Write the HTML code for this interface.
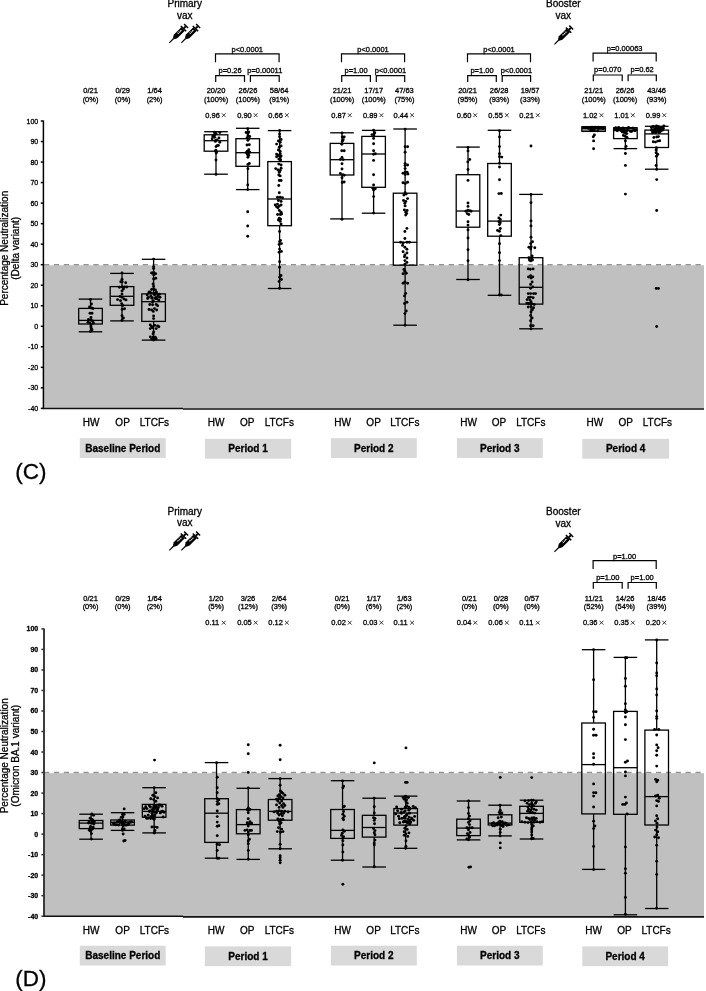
<!DOCTYPE html>
<html><head><meta charset="utf-8"><style>
html,body{margin:0;padding:0;background:#fff;width:706px;height:991px;overflow:hidden}
svg{display:block;will-change:transform}
text{font-family:"Liberation Sans",sans-serif;stroke:#000;stroke-width:0.3px}
</style></head><body>
<svg width="706" height="991" viewBox="0 0 706 991" font-family="'Liberation Sans', sans-serif"><rect x="43.4" y="265.3" width="660.6" height="143.1" fill="#c0c0c0"/><line x1="44.03" y1="264.7" x2="704" y2="264.7" stroke="#939393" stroke-width="1.5" stroke-dasharray="5.2 4.67"/><line x1="43.4" y1="120.5" x2="43.4" y2="409.1" stroke="#000" stroke-width="1.5"/><line x1="42.7" y1="408.4" x2="183" y2="408.4" stroke="#111" stroke-width="1.5"/><line x1="183" y1="409" x2="704" y2="409" stroke="#111" stroke-width="1.7"/><line x1="40.8" y1="121" x2="43.4" y2="121" stroke="#000" stroke-width="1.5"/><text x="38.2" y="123.5" font-size="7" text-anchor="end" font-weight="normal" fill="#000" >100</text><line x1="40.8" y1="141.53" x2="43.4" y2="141.53" stroke="#000" stroke-width="1.5"/><text x="38.2" y="144.03" font-size="7" text-anchor="end" font-weight="normal" fill="#000" >90</text><line x1="40.8" y1="162.06" x2="43.4" y2="162.06" stroke="#000" stroke-width="1.5"/><text x="38.2" y="164.56" font-size="7" text-anchor="end" font-weight="normal" fill="#000" >80</text><line x1="40.8" y1="182.59" x2="43.4" y2="182.59" stroke="#000" stroke-width="1.5"/><text x="38.2" y="185.09" font-size="7" text-anchor="end" font-weight="normal" fill="#000" >70</text><line x1="40.8" y1="203.11" x2="43.4" y2="203.11" stroke="#000" stroke-width="1.5"/><text x="38.2" y="205.61" font-size="7" text-anchor="end" font-weight="normal" fill="#000" >60</text><line x1="40.8" y1="223.64" x2="43.4" y2="223.64" stroke="#000" stroke-width="1.5"/><text x="38.2" y="226.14" font-size="7" text-anchor="end" font-weight="normal" fill="#000" >50</text><line x1="40.8" y1="244.17" x2="43.4" y2="244.17" stroke="#000" stroke-width="1.5"/><text x="38.2" y="246.67" font-size="7" text-anchor="end" font-weight="normal" fill="#000" >40</text><line x1="40.8" y1="264.7" x2="43.4" y2="264.7" stroke="#000" stroke-width="1.5"/><text x="38.2" y="267.2" font-size="7" text-anchor="end" font-weight="normal" fill="#000" >30</text><line x1="40.8" y1="285.23" x2="43.4" y2="285.23" stroke="#000" stroke-width="1.5"/><text x="38.2" y="287.73" font-size="7" text-anchor="end" font-weight="normal" fill="#000" >20</text><line x1="40.8" y1="305.76" x2="43.4" y2="305.76" stroke="#000" stroke-width="1.5"/><text x="38.2" y="308.26" font-size="7" text-anchor="end" font-weight="normal" fill="#000" >10</text><line x1="40.8" y1="326.29" x2="43.4" y2="326.29" stroke="#000" stroke-width="1.5"/><text x="38.2" y="328.79" font-size="7" text-anchor="end" font-weight="normal" fill="#000" >0</text><line x1="40.8" y1="346.81" x2="43.4" y2="346.81" stroke="#000" stroke-width="1.5"/><text x="38.2" y="349.31" font-size="7" text-anchor="end" font-weight="normal" fill="#000" >-10</text><line x1="40.8" y1="367.34" x2="43.4" y2="367.34" stroke="#000" stroke-width="1.5"/><text x="38.2" y="369.84" font-size="7" text-anchor="end" font-weight="normal" fill="#000" >-20</text><line x1="40.8" y1="387.87" x2="43.4" y2="387.87" stroke="#000" stroke-width="1.5"/><text x="38.2" y="390.37" font-size="7" text-anchor="end" font-weight="normal" fill="#000" >-30</text><line x1="40.8" y1="408.4" x2="43.4" y2="408.4" stroke="#000" stroke-width="1.5"/><text x="38.2" y="410.9" font-size="7" text-anchor="end" font-weight="normal" fill="#000" >-40</text><g transform="translate(7.9,248.3) rotate(-90)"><text x="0" y="0" font-size="10" text-anchor="middle">Percentage Neutralization</text></g><g transform="translate(18.6,248.3) rotate(-90)"><text x="0" y="0" font-size="10" text-anchor="middle">(Delta variant)</text></g><text x="91" y="426.2" font-size="10" text-anchor="middle" font-weight="normal" fill="#000" >HW</text><text x="122.6" y="426.2" font-size="10" text-anchor="middle" font-weight="normal" fill="#000" >OP</text><text x="154.4" y="426.2" font-size="10" text-anchor="middle" font-weight="normal" fill="#000" >LTCFs</text><rect x="79.8" y="438.2" width="85.9" height="19.8" fill="#d9d9d9"/><text x="122.75" y="451.7" font-size="10" text-anchor="middle" font-weight="bold" fill="#000" >Baseline Period</text><text x="216.1" y="426.2" font-size="10" text-anchor="middle" font-weight="normal" fill="#000" >HW</text><text x="247.2" y="426.2" font-size="10" text-anchor="middle" font-weight="normal" fill="#000" >OP</text><text x="279.3" y="426.2" font-size="10" text-anchor="middle" font-weight="normal" fill="#000" >LTCFs</text><rect x="204.9" y="438.9" width="86.3" height="19.8" fill="#d9d9d9"/><text x="248.05" y="452.4" font-size="10" text-anchor="middle" font-weight="bold" fill="#000" >Period 1</text><text x="342.7" y="426.2" font-size="10" text-anchor="middle" font-weight="normal" fill="#000" >HW</text><text x="373.6" y="426.2" font-size="10" text-anchor="middle" font-weight="normal" fill="#000" >OP</text><text x="404.8" y="426.2" font-size="10" text-anchor="middle" font-weight="normal" fill="#000" >LTCFs</text><rect x="330.9" y="438.2" width="85.9" height="19.8" fill="#d9d9d9"/><text x="373.85" y="451.7" font-size="10" text-anchor="middle" font-weight="bold" fill="#000" >Period 2</text><text x="468.6" y="426.2" font-size="10" text-anchor="middle" font-weight="normal" fill="#000" >HW</text><text x="499" y="426.2" font-size="10" text-anchor="middle" font-weight="normal" fill="#000" >OP</text><text x="530.8" y="426.2" font-size="10" text-anchor="middle" font-weight="normal" fill="#000" >LTCFs</text><rect x="456.9" y="438.2" width="85.9" height="19.8" fill="#d9d9d9"/><text x="499.85" y="451.7" font-size="10" text-anchor="middle" font-weight="bold" fill="#000" >Period 3</text><text x="594.8" y="426.2" font-size="10" text-anchor="middle" font-weight="normal" fill="#000" >HW</text><text x="625.7" y="426.2" font-size="10" text-anchor="middle" font-weight="normal" fill="#000" >OP</text><text x="657.4" y="426.2" font-size="10" text-anchor="middle" font-weight="normal" fill="#000" >LTCFs</text><rect x="582.3" y="438.9" width="86.8" height="19.8" fill="#d9d9d9"/><text x="625.7" y="452.4" font-size="10" text-anchor="middle" font-weight="bold" fill="#000" >Period 4</text><text x="15.2" y="479.4" font-size="22.5" text-anchor="start" font-weight="normal" fill="#000" >(C)</text><text x="184.7" y="7" font-size="10" text-anchor="middle" font-weight="normal" fill="#000" >Primary</text><text x="184.7" y="18.9" font-size="10" text-anchor="middle" font-weight="normal" fill="#000" >vax</text><text x="563.3" y="7.3" font-size="10" text-anchor="middle" font-weight="normal" fill="#000" >Booster</text><text x="563.3" y="19.4" font-size="10" text-anchor="middle" font-weight="normal" fill="#000" >vax</text><g transform="translate(169.3,42.8) rotate(-45)"><path d="M0,-0.5 L6.2,-0.65 L6.2,0.65 L0,0.5Z" fill="#000"/><path d="M6,-0.9 L8.8,-2.5 L19.5,-2.5 L19.5,2.5 L8.8,2.5 L6,0.9Z" fill="#000"/><rect x="19.3" y="-3.8" width="1.5" height="7.6" fill="#000"/><rect x="20.6" y="-1" width="2.6" height="2" fill="#000"/><rect x="23" y="-2.8" width="1.5" height="5.6" fill="#000"/><path d="M12,-0.2 L17.6,-0.2 M13,-0.2 L13,-1.6 M14.8,-0.2 L14.8,-1.6 M16.6,-0.2 L16.6,-1.6" stroke="#fff" stroke-width="0.75" fill="none"/></g><g transform="translate(181.3,42.8) rotate(-45)"><path d="M0,-0.5 L6.2,-0.65 L6.2,0.65 L0,0.5Z" fill="#000"/><path d="M6,-0.9 L8.8,-2.5 L19.5,-2.5 L19.5,2.5 L8.8,2.5 L6,0.9Z" fill="#000"/><rect x="19.3" y="-3.8" width="1.5" height="7.6" fill="#000"/><rect x="20.6" y="-1" width="2.6" height="2" fill="#000"/><rect x="23" y="-2.8" width="1.5" height="5.6" fill="#000"/><path d="M12,-0.2 L17.6,-0.2 M13,-0.2 L13,-1.6 M14.8,-0.2 L14.8,-1.6 M16.6,-0.2 L16.6,-1.6" stroke="#fff" stroke-width="0.75" fill="none"/></g><g transform="translate(554.4,44.3) rotate(-45)"><path d="M0,-0.5 L6.2,-0.65 L6.2,0.65 L0,0.5Z" fill="#000"/><path d="M6,-0.9 L8.8,-2.5 L19.5,-2.5 L19.5,2.5 L8.8,2.5 L6,0.9Z" fill="#000"/><rect x="19.3" y="-3.8" width="1.5" height="7.6" fill="#000"/><rect x="20.6" y="-1" width="2.6" height="2" fill="#000"/><rect x="23" y="-2.8" width="1.5" height="5.6" fill="#000"/><path d="M12,-0.2 L17.6,-0.2 M13,-0.2 L13,-1.6 M14.8,-0.2 L14.8,-1.6 M16.6,-0.2 L16.6,-1.6" stroke="#fff" stroke-width="0.75" fill="none"/></g><text x="90.55" y="93.3" font-size="7.5" text-anchor="middle" font-weight="normal" fill="#000" >0/21</text><text x="90.55" y="101.7" font-size="7.5" text-anchor="middle" font-weight="normal" fill="#000" >(0%)</text><text x="122.7" y="93.3" font-size="7.5" text-anchor="middle" font-weight="normal" fill="#000" >0/29</text><text x="122.7" y="101.7" font-size="7.5" text-anchor="middle" font-weight="normal" fill="#000" >(0%)</text><text x="154.55" y="93.3" font-size="7.5" text-anchor="middle" font-weight="normal" fill="#000" >1/64</text><text x="154.55" y="101.7" font-size="7.5" text-anchor="middle" font-weight="normal" fill="#000" >(2%)</text><text x="216.05" y="93.3" font-size="7.5" text-anchor="middle" font-weight="normal" fill="#000" >20/20</text><text x="216.05" y="101.7" font-size="7.5" text-anchor="middle" font-weight="normal" fill="#000" >(100%)</text><text x="205.25" y="117.9" font-size="7.5" text-anchor="start" font-weight="normal" fill="#000" >0.96</text><path d="M221.85,113.3 L225.65,117.1 M225.65,113.3 L221.85,117.1" stroke="#222" stroke-width="0.9" fill="none"/><text x="247.95" y="93.3" font-size="7.5" text-anchor="middle" font-weight="normal" fill="#000" >26/26</text><text x="247.95" y="101.7" font-size="7.5" text-anchor="middle" font-weight="normal" fill="#000" >(100%)</text><text x="237.15" y="117.9" font-size="7.5" text-anchor="start" font-weight="normal" fill="#000" >0.90</text><path d="M253.75,113.3 L257.55,117.1 M257.55,113.3 L253.75,117.1" stroke="#222" stroke-width="0.9" fill="none"/><text x="279.15" y="93.3" font-size="7.5" text-anchor="middle" font-weight="normal" fill="#000" >58/64</text><text x="279.15" y="101.7" font-size="7.5" text-anchor="middle" font-weight="normal" fill="#000" >(91%)</text><text x="268.35" y="117.9" font-size="7.5" text-anchor="start" font-weight="normal" fill="#000" >0.66</text><path d="M284.95,113.3 L288.75,117.1 M288.75,113.3 L284.95,117.1" stroke="#222" stroke-width="0.9" fill="none"/><text x="342.05" y="93.3" font-size="7.5" text-anchor="middle" font-weight="normal" fill="#000" >21/21</text><text x="342.05" y="101.7" font-size="7.5" text-anchor="middle" font-weight="normal" fill="#000" >(100%)</text><text x="331.25" y="117.9" font-size="7.5" text-anchor="start" font-weight="normal" fill="#000" >0.87</text><path d="M347.85,113.3 L351.65,117.1 M351.65,113.3 L347.85,117.1" stroke="#222" stroke-width="0.9" fill="none"/><text x="373.75" y="93.3" font-size="7.5" text-anchor="middle" font-weight="normal" fill="#000" >17/17</text><text x="373.75" y="101.7" font-size="7.5" text-anchor="middle" font-weight="normal" fill="#000" >(100%)</text><text x="362.95" y="117.9" font-size="7.5" text-anchor="start" font-weight="normal" fill="#000" >0.89</text><path d="M379.55,113.3 L383.35,117.1 M383.35,113.3 L379.55,117.1" stroke="#222" stroke-width="0.9" fill="none"/><text x="404.4" y="93.3" font-size="7.5" text-anchor="middle" font-weight="normal" fill="#000" >47/63</text><text x="404.4" y="101.7" font-size="7.5" text-anchor="middle" font-weight="normal" fill="#000" >(75%)</text><text x="393.6" y="117.9" font-size="7.5" text-anchor="start" font-weight="normal" fill="#000" >0.44</text><path d="M410.2,113.3 L414,117.1 M414,113.3 L410.2,117.1" stroke="#222" stroke-width="0.9" fill="none"/><text x="467.55" y="93.3" font-size="7.5" text-anchor="middle" font-weight="normal" fill="#000" >20/21</text><text x="467.55" y="101.7" font-size="7.5" text-anchor="middle" font-weight="normal" fill="#000" >(95%)</text><text x="456.75" y="117.9" font-size="7.5" text-anchor="start" font-weight="normal" fill="#000" >0.60</text><path d="M473.35,113.3 L477.15,117.1 M477.15,113.3 L473.35,117.1" stroke="#222" stroke-width="0.9" fill="none"/><text x="499.15" y="93.3" font-size="7.5" text-anchor="middle" font-weight="normal" fill="#000" >26/28</text><text x="499.15" y="101.7" font-size="7.5" text-anchor="middle" font-weight="normal" fill="#000" >(93%)</text><text x="488.35" y="117.9" font-size="7.5" text-anchor="start" font-weight="normal" fill="#000" >0.55</text><path d="M504.95,113.3 L508.75,117.1 M508.75,113.3 L504.95,117.1" stroke="#222" stroke-width="0.9" fill="none"/><text x="530.1" y="93.3" font-size="7.5" text-anchor="middle" font-weight="normal" fill="#000" >19/57</text><text x="530.1" y="101.7" font-size="7.5" text-anchor="middle" font-weight="normal" fill="#000" >(33%)</text><text x="519.3" y="117.9" font-size="7.5" text-anchor="start" font-weight="normal" fill="#000" >0.21</text><path d="M535.9,113.3 L539.7,117.1 M539.7,113.3 L535.9,117.1" stroke="#222" stroke-width="0.9" fill="none"/><text x="593.75" y="93.3" font-size="7.5" text-anchor="middle" font-weight="normal" fill="#000" >21/21</text><text x="593.75" y="101.7" font-size="7.5" text-anchor="middle" font-weight="normal" fill="#000" >(100%)</text><text x="582.95" y="117.9" font-size="7.5" text-anchor="start" font-weight="normal" fill="#000" >1.02</text><path d="M599.55,113.3 L603.35,117.1 M603.35,113.3 L599.55,117.1" stroke="#222" stroke-width="0.9" fill="none"/><text x="625.1" y="93.3" font-size="7.5" text-anchor="middle" font-weight="normal" fill="#000" >26/26</text><text x="625.1" y="101.7" font-size="7.5" text-anchor="middle" font-weight="normal" fill="#000" >(100%)</text><text x="614.3" y="117.9" font-size="7.5" text-anchor="start" font-weight="normal" fill="#000" >1.01</text><path d="M630.9,113.3 L634.7,117.1 M634.7,113.3 L630.9,117.1" stroke="#222" stroke-width="0.9" fill="none"/><text x="656.6" y="93.3" font-size="7.5" text-anchor="middle" font-weight="normal" fill="#000" >43/46</text><text x="656.6" y="101.7" font-size="7.5" text-anchor="middle" font-weight="normal" fill="#000" >(93%)</text><text x="645.8" y="117.9" font-size="7.5" text-anchor="start" font-weight="normal" fill="#000" >0.99</text><path d="M662.4,113.3 L666.2,117.1 M666.2,113.3 L662.4,117.1" stroke="#222" stroke-width="0.9" fill="none"/><path d="M215.5,62.2 V53.8 H279.1 V62.2" stroke="#000" stroke-width="1.2" fill="none"/><text x="247.3" y="51.7" font-size="7.5" text-anchor="middle" font-weight="normal" fill="#000" >p&lt;0.0001</text><path d="M215.7,82 V75.7 H244.5 V82" stroke="#000" stroke-width="1.2" fill="none"/><text x="230.1" y="73" font-size="7.5" text-anchor="middle" font-weight="normal" fill="#000" >p=0.26</text><path d="M250.4,82 V75.7 H279.2 V82" stroke="#000" stroke-width="1.2" fill="none"/><text x="264.8" y="73" font-size="7.5" text-anchor="middle" font-weight="normal" fill="#000" >p=0.00011</text><path d="M341.5,62.2 V53.8 H404.6 V62.2" stroke="#000" stroke-width="1.2" fill="none"/><text x="373.05" y="51.7" font-size="7.5" text-anchor="middle" font-weight="normal" fill="#000" >p&lt;0.0001</text><path d="M341.7,82 V75.7 H370.4 V82" stroke="#000" stroke-width="1.2" fill="none"/><text x="356.05" y="73" font-size="7.5" text-anchor="middle" font-weight="normal" fill="#000" >p=1.00</text><path d="M376.3,82 V75.7 H404.7 V82" stroke="#000" stroke-width="1.2" fill="none"/><text x="390.5" y="73" font-size="7.5" text-anchor="middle" font-weight="normal" fill="#000" >p&lt;0.0001</text><path d="M467.5,62.2 V53.8 H530.5 V62.2" stroke="#000" stroke-width="1.2" fill="none"/><text x="499" y="51.7" font-size="7.5" text-anchor="middle" font-weight="normal" fill="#000" >p&lt;0.0001</text><path d="M467.7,82 V75.7 H496.3 V82" stroke="#000" stroke-width="1.2" fill="none"/><text x="482" y="73" font-size="7.5" text-anchor="middle" font-weight="normal" fill="#000" >p=1.00</text><path d="M502.2,82 V75.7 H530.6 V82" stroke="#000" stroke-width="1.2" fill="none"/><text x="516.4" y="73" font-size="7.5" text-anchor="middle" font-weight="normal" fill="#000" >p&lt;0.0001</text><path d="M593.1,61.5 V53.1 H656.2 V61.5" stroke="#000" stroke-width="1.2" fill="none"/><text x="624.65" y="51" font-size="7.5" text-anchor="middle" font-weight="normal" fill="#000" >p=0.00063</text><path d="M593.3,81.3 V75 H622.2 V81.3" stroke="#000" stroke-width="1.2" fill="none"/><text x="607.75" y="72.3" font-size="7.5" text-anchor="middle" font-weight="normal" fill="#000" >p=0.070</text><path d="M628.1,81.3 V75 H656.3 V81.3" stroke="#000" stroke-width="1.2" fill="none"/><text x="642.2" y="72.3" font-size="7.5" text-anchor="middle" font-weight="normal" fill="#000" >p=0.62</text><g stroke="#000" stroke-width="1.3" fill="none"><line x1="90.5" y1="299.1" x2="90.5" y2="308.4"/><line x1="90.5" y1="324" x2="90.5" y2="331.8"/><line x1="78.7" y1="299.1" x2="102.3" y2="299.1"/><line x1="78.7" y1="331.8" x2="102.3" y2="331.8"/><rect x="78.7" y="308.4" width="23.6" height="15.6"/><line x1="78.7" y1="320.4" x2="102.3" y2="320.4"/></g><g stroke="#000" stroke-width="1.3" fill="none"><line x1="122" y1="273.4" x2="122" y2="286.6"/><line x1="122" y1="305.3" x2="122" y2="320.9"/><line x1="110.2" y1="273.4" x2="133.8" y2="273.4"/><line x1="110.2" y1="320.9" x2="133.8" y2="320.9"/><rect x="110.2" y="286.6" width="23.6" height="18.7"/><line x1="110.2" y1="296.3" x2="133.8" y2="296.3"/></g><g stroke="#000" stroke-width="1.3" fill="none"><line x1="153.6" y1="259.3" x2="153.6" y2="293.9"/><line x1="153.6" y1="321.4" x2="153.6" y2="340.1"/><line x1="141.8" y1="259.3" x2="165.4" y2="259.3"/><line x1="141.8" y1="340.1" x2="165.4" y2="340.1"/><rect x="141.8" y="293.9" width="23.6" height="27.5"/><line x1="141.8" y1="301.7" x2="165.4" y2="301.7"/></g><g stroke="#000" stroke-width="1.3" fill="none"><line x1="216" y1="131.7" x2="216" y2="134.8"/><line x1="216" y1="151.2" x2="216" y2="174.2"/><line x1="204.2" y1="131.7" x2="227.8" y2="131.7"/><line x1="204.2" y1="174.2" x2="227.8" y2="174.2"/><rect x="204.2" y="134.8" width="23.6" height="16.4"/><line x1="204.2" y1="140.7" x2="227.8" y2="140.7"/></g><g stroke="#000" stroke-width="1.3" fill="none"><line x1="247.7" y1="128.3" x2="247.7" y2="138.7"/><line x1="247.7" y1="166.3" x2="247.7" y2="189.6"/><line x1="235.9" y1="128.3" x2="259.5" y2="128.3"/><line x1="235.9" y1="189.6" x2="259.5" y2="189.6"/><rect x="235.9" y="138.7" width="23.6" height="27.6"/><line x1="235.9" y1="152.7" x2="259.5" y2="152.7"/></g><g stroke="#000" stroke-width="1.3" fill="none"><line x1="279.6" y1="130.6" x2="279.6" y2="161.6"/><line x1="279.6" y1="225.7" x2="279.6" y2="288.5"/><line x1="267.8" y1="130.6" x2="291.4" y2="130.6"/><line x1="267.8" y1="288.5" x2="291.4" y2="288.5"/><rect x="267.8" y="161.6" width="23.6" height="64.1"/><line x1="267.8" y1="199" x2="291.4" y2="199"/></g><g stroke="#000" stroke-width="1.3" fill="none"><line x1="342" y1="132.8" x2="342" y2="143.4"/><line x1="342" y1="175" x2="342" y2="218.9"/><line x1="330.2" y1="132.8" x2="353.8" y2="132.8"/><line x1="330.2" y1="218.9" x2="353.8" y2="218.9"/><rect x="330.2" y="143.4" width="23.6" height="31.6"/><line x1="330.2" y1="159.7" x2="353.8" y2="159.7"/></g><g stroke="#000" stroke-width="1.3" fill="none"><line x1="373.6" y1="130.4" x2="373.6" y2="136.4"/><line x1="373.6" y1="187.3" x2="373.6" y2="213.2"/><line x1="361.8" y1="130.4" x2="385.4" y2="130.4"/><line x1="361.8" y1="213.2" x2="385.4" y2="213.2"/><rect x="361.8" y="136.4" width="23.6" height="50.9"/><line x1="361.8" y1="154" x2="385.4" y2="154"/></g><g stroke="#000" stroke-width="1.3" fill="none"><line x1="405.1" y1="129" x2="405.1" y2="193.2"/><line x1="405.1" y1="265.2" x2="405.1" y2="325.2"/><line x1="393.3" y1="129" x2="416.9" y2="129"/><line x1="393.3" y1="325.2" x2="416.9" y2="325.2"/><rect x="393.3" y="193.2" width="23.6" height="72"/><line x1="393.3" y1="242.3" x2="416.9" y2="242.3"/></g><g stroke="#000" stroke-width="1.3" fill="none"><line x1="468" y1="147.1" x2="468" y2="174.7"/><line x1="468" y1="227.2" x2="468" y2="279.5"/><line x1="456.2" y1="147.1" x2="479.8" y2="147.1"/><line x1="456.2" y1="279.5" x2="479.8" y2="279.5"/><rect x="456.2" y="174.7" width="23.6" height="52.5"/><line x1="456.2" y1="211" x2="479.8" y2="211"/></g><g stroke="#000" stroke-width="1.3" fill="none"><line x1="499.5" y1="130.3" x2="499.5" y2="163.5"/><line x1="499.5" y1="236.2" x2="499.5" y2="295.3"/><line x1="487.7" y1="130.3" x2="511.3" y2="130.3"/><line x1="487.7" y1="295.3" x2="511.3" y2="295.3"/><rect x="487.7" y="163.5" width="23.6" height="72.7"/><line x1="487.7" y1="221.1" x2="511.3" y2="221.1"/></g><g stroke="#000" stroke-width="1.3" fill="none"><line x1="531" y1="194.4" x2="531" y2="257.7"/><line x1="531" y1="304.1" x2="531" y2="328.8"/><line x1="519.2" y1="194.4" x2="542.8" y2="194.4"/><line x1="519.2" y1="328.8" x2="542.8" y2="328.8"/><rect x="519.2" y="257.7" width="23.6" height="46.4"/><line x1="519.2" y1="287.3" x2="542.8" y2="287.3"/></g><g stroke="#000" stroke-width="1.3" fill="none"><line x1="593.6" y1="126.7" x2="593.6" y2="126.9"/><line x1="593.6" y1="131.2" x2="593.6" y2="131.4"/><line x1="581.8" y1="126.7" x2="605.4" y2="126.7"/><line x1="581.8" y1="131.4" x2="605.4" y2="131.4"/><rect x="581.8" y="126.9" width="23.6" height="4.3"/><line x1="581.8" y1="128.8" x2="605.4" y2="128.8"/></g><g stroke="#000" stroke-width="1.3" fill="none"><line x1="625.4" y1="127.7" x2="625.4" y2="127.9"/><line x1="625.4" y1="138.6" x2="625.4" y2="148.6"/><line x1="613.6" y1="127.7" x2="637.2" y2="127.7"/><line x1="613.6" y1="148.6" x2="637.2" y2="148.6"/><rect x="613.6" y="127.9" width="23.6" height="10.7"/><line x1="613.6" y1="130.6" x2="637.2" y2="130.6"/></g><g stroke="#000" stroke-width="1.3" fill="none"><line x1="656.7" y1="126.3" x2="656.7" y2="130.1"/><line x1="656.7" y1="147.5" x2="656.7" y2="169.2"/><line x1="644.9" y1="126.3" x2="668.5" y2="126.3"/><line x1="644.9" y1="169.2" x2="668.5" y2="169.2"/><rect x="644.9" y="130.1" width="23.6" height="17.4"/><line x1="644.9" y1="133.9" x2="668.5" y2="133.9"/></g><g fill="#000"><circle cx="90.5" cy="299.5" r="1.45"/><circle cx="91.5" cy="304" r="1.45"/><circle cx="89.5" cy="307" r="1.45"/><circle cx="91.5" cy="308" r="1.45"/><circle cx="93" cy="308.5" r="1.45"/><circle cx="90" cy="313.2" r="1.45"/><circle cx="92" cy="313.3" r="1.45"/><circle cx="91" cy="317.5" r="1.45"/><circle cx="88.5" cy="319.5" r="1.45"/><circle cx="91" cy="320" r="1.45"/><circle cx="92.5" cy="321" r="1.45"/><circle cx="88" cy="322.3" r="1.45"/><circle cx="90" cy="323" r="1.45"/><circle cx="93.5" cy="323" r="1.45"/><circle cx="91" cy="325" r="1.45"/><circle cx="91" cy="327" r="1.45"/><circle cx="91.5" cy="329" r="1.45"/><circle cx="92" cy="330" r="1.45"/><circle cx="90.5" cy="331.5" r="1.45"/><circle cx="122" cy="272.9" r="1.45"/><circle cx="122" cy="279.2" r="1.45"/><circle cx="120.8" cy="281.8" r="1.45"/><circle cx="122.2" cy="281.8" r="1.45"/><circle cx="125.7" cy="282.7" r="1.45"/><circle cx="119.4" cy="287.3" r="1.45"/><circle cx="122.2" cy="287" r="1.45"/><circle cx="124.5" cy="287" r="1.45"/><circle cx="126.8" cy="287" r="1.45"/><circle cx="123.4" cy="289" r="1.45"/><circle cx="122" cy="291" r="1.45"/><circle cx="122" cy="294.1" r="1.45"/><circle cx="120" cy="296.4" r="1.45"/><circle cx="122" cy="297.3" r="1.45"/><circle cx="117.6" cy="299.6" r="1.45"/><circle cx="120.5" cy="300.8" r="1.45"/><circle cx="124" cy="299" r="1.45"/><circle cx="126" cy="299.9" r="1.45"/><circle cx="121.7" cy="303.6" r="1.45"/><circle cx="122.8" cy="305.4" r="1.45"/><circle cx="122.2" cy="309.4" r="1.45"/><circle cx="124.5" cy="308.8" r="1.45"/><circle cx="122" cy="315.7" r="1.45"/><circle cx="123.4" cy="318" r="1.45"/><circle cx="122" cy="320.3" r="1.45"/><circle cx="153.6" cy="259.1" r="1.45"/><circle cx="153.6" cy="266.8" r="1.45"/><circle cx="153.6" cy="268.6" r="1.45"/><circle cx="151.6" cy="273" r="1.45"/><circle cx="153.6" cy="272.5" r="1.45"/><circle cx="155.6" cy="273.8" r="1.45"/><circle cx="153.6" cy="274.8" r="1.45"/><circle cx="155.7" cy="278.2" r="1.45"/><circle cx="153.6" cy="279" r="1.45"/><circle cx="153.1" cy="284" r="1.45"/><circle cx="153.6" cy="286.4" r="1.45"/><circle cx="151.6" cy="289.5" r="1.45"/><circle cx="153.6" cy="289" r="1.45"/><circle cx="155.4" cy="290" r="1.45"/><circle cx="147.18" cy="295.07" r="1.45"/><circle cx="147.68" cy="298.56" r="1.45"/><circle cx="148.38" cy="297.33" r="1.45"/><circle cx="149" cy="292.22" r="1.45"/><circle cx="149.5" cy="292" r="1.45"/><circle cx="149.86" cy="292.35" r="1.45"/><circle cx="150.8" cy="296.14" r="1.45"/><circle cx="151.01" cy="292.92" r="1.45"/><circle cx="151.95" cy="298.31" r="1.45"/><circle cx="152.19" cy="297.78" r="1.45"/><circle cx="152.54" cy="302.05" r="1.45"/><circle cx="153.22" cy="300.79" r="1.45"/><circle cx="153.66" cy="293.14" r="1.45"/><circle cx="154.58" cy="294.9" r="1.45"/><circle cx="155" cy="293.53" r="1.45"/><circle cx="155.43" cy="298.44" r="1.45"/><circle cx="155.8" cy="297.46" r="1.45"/><circle cx="156.42" cy="292.24" r="1.45"/><circle cx="157.08" cy="298.88" r="1.45"/><circle cx="157.71" cy="294.96" r="1.45"/><circle cx="158.1" cy="296.45" r="1.45"/><circle cx="158.85" cy="300.1" r="1.45"/><circle cx="159.33" cy="294.21" r="1.45"/><circle cx="160.03" cy="297.22" r="1.45"/><circle cx="149.8" cy="304.5" r="1.45"/><circle cx="152.6" cy="304.8" r="1.45"/><circle cx="156.2" cy="304.5" r="1.45"/><circle cx="157.6" cy="305.8" r="1.45"/><circle cx="149" cy="309.5" r="1.45"/><circle cx="151.6" cy="310" r="1.45"/><circle cx="154.4" cy="308.6" r="1.45"/><circle cx="156.7" cy="310" r="1.45"/><circle cx="153.3" cy="311.4" r="1.45"/><circle cx="153.6" cy="316" r="1.45"/><circle cx="153.6" cy="318.6" r="1.45"/><circle cx="150.3" cy="325" r="1.45"/><circle cx="151.6" cy="326.4" r="1.45"/><circle cx="154.8" cy="325.4" r="1.45"/><circle cx="157.6" cy="326" r="1.45"/><circle cx="158.9" cy="326.8" r="1.45"/><circle cx="150.3" cy="328.6" r="1.45"/><circle cx="152.6" cy="327.8" r="1.45"/><circle cx="156.2" cy="328.6" r="1.45"/><circle cx="153.6" cy="332" r="1.45"/><circle cx="153.1" cy="334" r="1.45"/><circle cx="150.3" cy="337" r="1.45"/><circle cx="153.1" cy="337.3" r="1.45"/><circle cx="155.3" cy="337.3" r="1.45"/><circle cx="154.4" cy="339" r="1.45"/><circle cx="151.6" cy="339" r="1.45"/><circle cx="156.2" cy="339" r="1.45"/><circle cx="153.6" cy="340" r="1.45"/><circle cx="214.62" cy="132.21" r="1.45"/><circle cx="219.8" cy="132.54" r="1.45"/><circle cx="216.05" cy="133.63" r="1.45"/><circle cx="214.8" cy="134.53" r="1.45"/><circle cx="214.25" cy="134.99" r="1.45"/><circle cx="212.9" cy="136.27" r="1.45"/><circle cx="214.74" cy="137.36" r="1.45"/><circle cx="218.97" cy="137.97" r="1.45"/><circle cx="212.2" cy="138.79" r="1.45"/><circle cx="217.09" cy="139.94" r="1.45"/><circle cx="215.62" cy="140.38" r="1.45"/><circle cx="215.37" cy="141.41" r="1.45"/><circle cx="219.8" cy="142.2" r="1.45"/><circle cx="217" cy="145.7" r="1.45"/><circle cx="218.4" cy="145.4" r="1.45"/><circle cx="216" cy="146.6" r="1.45"/><circle cx="215.89" cy="150.08" r="1.45"/><circle cx="215.86" cy="150.79" r="1.45"/><circle cx="215.74" cy="151.48" r="1.45"/><circle cx="216.36" cy="151.93" r="1.45"/><circle cx="216.32" cy="152.95" r="1.45"/><circle cx="216" cy="160" r="1.45"/><circle cx="216" cy="174.4" r="1.45"/><circle cx="247.7" cy="128.7" r="1.45"/><circle cx="246.1" cy="132.5" r="1.45"/><circle cx="248.8" cy="132" r="1.45"/><circle cx="247.9" cy="133.8" r="1.45"/><circle cx="247.9" cy="136" r="1.45"/><circle cx="249.7" cy="136.5" r="1.45"/><circle cx="247" cy="137.9" r="1.45"/><circle cx="248.8" cy="138.8" r="1.45"/><circle cx="247.9" cy="140.2" r="1.45"/><circle cx="247" cy="145" r="1.45"/><circle cx="249.3" cy="144.8" r="1.45"/><circle cx="248.8" cy="149.8" r="1.45"/><circle cx="247.4" cy="151.2" r="1.45"/><circle cx="246.1" cy="152.6" r="1.45"/><circle cx="248.3" cy="153" r="1.45"/><circle cx="249.7" cy="152.2" r="1.45"/><circle cx="247.4" cy="154.5" r="1.45"/><circle cx="248.8" cy="155.4" r="1.45"/><circle cx="247.9" cy="157.2" r="1.45"/><circle cx="249.3" cy="163.5" r="1.45"/><circle cx="247.9" cy="164.4" r="1.45"/><circle cx="247.9" cy="168.7" r="1.45"/><circle cx="247.7" cy="184.9" r="1.45"/><circle cx="247.7" cy="189.6" r="1.45"/><circle cx="247.7" cy="211.8" r="1.45"/><circle cx="247.7" cy="226" r="1.45"/><circle cx="247.7" cy="236.3" r="1.45"/><circle cx="279.6" cy="130.5" r="1.45"/><circle cx="279.6" cy="134" r="1.45"/><circle cx="279.6" cy="136.8" r="1.45"/><circle cx="281.1" cy="139.5" r="1.45"/><circle cx="278.4" cy="140.9" r="1.45"/><circle cx="280.2" cy="142.3" r="1.45"/><circle cx="276.6" cy="144.1" r="1.45"/><circle cx="281.1" cy="145.9" r="1.45"/><circle cx="279.3" cy="147.3" r="1.45"/><circle cx="278.4" cy="150" r="1.45"/><circle cx="280.2" cy="151.4" r="1.45"/><circle cx="276.6" cy="154.1" r="1.45"/><circle cx="280.2" cy="153.6" r="1.45"/><circle cx="278.4" cy="155.5" r="1.45"/><circle cx="281.1" cy="155.9" r="1.45"/><circle cx="276.6" cy="156.8" r="1.45"/><circle cx="280.2" cy="157.7" r="1.45"/><circle cx="278.8" cy="159.1" r="1.45"/><circle cx="280.6" cy="160" r="1.45"/><circle cx="278.8" cy="164.1" r="1.45"/><circle cx="281.1" cy="165" r="1.45"/><circle cx="275.7" cy="168.6" r="1.45"/><circle cx="277.9" cy="170" r="1.45"/><circle cx="280.2" cy="170.5" r="1.45"/><circle cx="279.3" cy="172.3" r="1.45"/><circle cx="281.1" cy="168.2" r="1.45"/><circle cx="278.8" cy="175" r="1.45"/><circle cx="280.2" cy="175.9" r="1.45"/><circle cx="279.3" cy="180.5" r="1.45"/><circle cx="281.1" cy="180.5" r="1.45"/><circle cx="278.8" cy="185.5" r="1.45"/><circle cx="279.3" cy="192.7" r="1.45"/><circle cx="277.5" cy="197.3" r="1.45"/><circle cx="280.2" cy="197.3" r="1.45"/><circle cx="282.5" cy="197.7" r="1.45"/><circle cx="278.4" cy="200.5" r="1.45"/><circle cx="281.1" cy="201.4" r="1.45"/><circle cx="275.2" cy="205" r="1.45"/><circle cx="277.5" cy="204.1" r="1.45"/><circle cx="276.6" cy="206.8" r="1.45"/><circle cx="279.3" cy="206" r="1.45"/><circle cx="281.1" cy="205" r="1.45"/><circle cx="277.9" cy="207.7" r="1.45"/><circle cx="279.3" cy="210.5" r="1.45"/><circle cx="281.1" cy="212.3" r="1.45"/><circle cx="277.6" cy="214.5" r="1.45"/><circle cx="280.3" cy="214.5" r="1.45"/><circle cx="281.6" cy="214.1" r="1.45"/><circle cx="279.3" cy="218.2" r="1.45"/><circle cx="280.6" cy="219.1" r="1.45"/><circle cx="278.4" cy="220" r="1.45"/><circle cx="280.2" cy="221.4" r="1.45"/><circle cx="281.1" cy="224.1" r="1.45"/><circle cx="279.6" cy="231.4" r="1.45"/><circle cx="280.5" cy="240.5" r="1.45"/><circle cx="279.6" cy="241.8" r="1.45"/><circle cx="281.4" cy="243.6" r="1.45"/><circle cx="279.1" cy="244.5" r="1.45"/><circle cx="279.6" cy="249.1" r="1.45"/><circle cx="281.4" cy="251.4" r="1.45"/><circle cx="279.1" cy="252.3" r="1.45"/><circle cx="279.6" cy="261.8" r="1.45"/><circle cx="279.6" cy="267.3" r="1.45"/><circle cx="281" cy="275.5" r="1.45"/><circle cx="279.6" cy="277.3" r="1.45"/><circle cx="281.4" cy="279.5" r="1.45"/><circle cx="279.1" cy="281.4" r="1.45"/><circle cx="279.6" cy="288.2" r="1.45"/><circle cx="342" cy="132.9" r="1.45"/><circle cx="342.3" cy="137" r="1.45"/><circle cx="344.2" cy="137" r="1.45"/><circle cx="343.2" cy="139.8" r="1.45"/><circle cx="342.3" cy="141.3" r="1.45"/><circle cx="341.8" cy="144.2" r="1.45"/><circle cx="341.8" cy="150.7" r="1.45"/><circle cx="344.2" cy="150.7" r="1.45"/><circle cx="342" cy="157.4" r="1.45"/><circle cx="340.4" cy="159.4" r="1.45"/><circle cx="343.2" cy="159.6" r="1.45"/><circle cx="342" cy="163.8" r="1.45"/><circle cx="342" cy="169" r="1.45"/><circle cx="340.4" cy="173.4" r="1.45"/><circle cx="342.8" cy="174.8" r="1.45"/><circle cx="344.2" cy="175.3" r="1.45"/><circle cx="342" cy="177.7" r="1.45"/><circle cx="342.3" cy="182.5" r="1.45"/><circle cx="344.2" cy="182" r="1.45"/><circle cx="342" cy="219.3" r="1.45"/><circle cx="373.6" cy="130.3" r="1.45"/><circle cx="374.8" cy="132.7" r="1.45"/><circle cx="372" cy="134.6" r="1.45"/><circle cx="373.9" cy="135" r="1.45"/><circle cx="373.6" cy="138.4" r="1.45"/><circle cx="373.6" cy="143.7" r="1.45"/><circle cx="373.6" cy="150.7" r="1.45"/><circle cx="373.6" cy="154.2" r="1.45"/><circle cx="375.3" cy="153.7" r="1.45"/><circle cx="373.6" cy="160.4" r="1.45"/><circle cx="373.6" cy="174.8" r="1.45"/><circle cx="373.6" cy="184.9" r="1.45"/><circle cx="372.9" cy="188.2" r="1.45"/><circle cx="375.3" cy="188.7" r="1.45"/><circle cx="373.6" cy="190.1" r="1.45"/><circle cx="373.6" cy="196.6" r="1.45"/><circle cx="373.6" cy="213.1" r="1.45"/><circle cx="405.1" cy="129.1" r="1.45"/><circle cx="405.1" cy="146.8" r="1.45"/><circle cx="407.6" cy="146.8" r="1.45"/><circle cx="405.1" cy="152.3" r="1.45"/><circle cx="405.1" cy="163.6" r="1.45"/><circle cx="405.1" cy="165.5" r="1.45"/><circle cx="407.6" cy="165" r="1.45"/><circle cx="405.1" cy="168.6" r="1.45"/><circle cx="403" cy="173.2" r="1.45"/><circle cx="405.3" cy="172.3" r="1.45"/><circle cx="407.1" cy="172.3" r="1.45"/><circle cx="408" cy="174.1" r="1.45"/><circle cx="405.3" cy="174.5" r="1.45"/><circle cx="403" cy="182.7" r="1.45"/><circle cx="405.3" cy="183.6" r="1.45"/><circle cx="407.6" cy="182.3" r="1.45"/><circle cx="405.1" cy="192.7" r="1.45"/><circle cx="406.2" cy="194.1" r="1.45"/><circle cx="403.9" cy="195" r="1.45"/><circle cx="407.6" cy="198.6" r="1.45"/><circle cx="403.5" cy="200.5" r="1.45"/><circle cx="405.8" cy="201.4" r="1.45"/><circle cx="404.8" cy="203.2" r="1.45"/><circle cx="405.1" cy="205.9" r="1.45"/><circle cx="404.4" cy="210" r="1.45"/><circle cx="407.1" cy="210.5" r="1.45"/><circle cx="405.8" cy="212.3" r="1.45"/><circle cx="406.7" cy="213.6" r="1.45"/><circle cx="405.7" cy="215.1" r="1.45"/><circle cx="406.9" cy="228.4" r="1.45"/><circle cx="404.9" cy="231.5" r="1.45"/><circle cx="404.9" cy="238.5" r="1.45"/><circle cx="400.6" cy="242.2" r="1.45"/><circle cx="403.1" cy="242.9" r="1.45"/><circle cx="406.9" cy="242.2" r="1.45"/><circle cx="409.4" cy="242.2" r="1.45"/><circle cx="402.6" cy="245.4" r="1.45"/><circle cx="404.9" cy="247.3" r="1.45"/><circle cx="406.9" cy="249.2" r="1.45"/><circle cx="403.1" cy="251.7" r="1.45"/><circle cx="406.9" cy="253" r="1.45"/><circle cx="404.9" cy="254.9" r="1.45"/><circle cx="404.4" cy="256.8" r="1.45"/><circle cx="406.9" cy="258" r="1.45"/><circle cx="404.9" cy="260.6" r="1.45"/><circle cx="406.9" cy="262.4" r="1.45"/><circle cx="404.9" cy="264.3" r="1.45"/><circle cx="403.9" cy="269.4" r="1.45"/><circle cx="404.9" cy="271.3" r="1.45"/><circle cx="403.1" cy="273.8" r="1.45"/><circle cx="406.3" cy="273.2" r="1.45"/><circle cx="403.1" cy="283.3" r="1.45"/><circle cx="407.6" cy="283.3" r="1.45"/><circle cx="404.9" cy="282" r="1.45"/><circle cx="405.7" cy="293.4" r="1.45"/><circle cx="404.5" cy="295.9" r="1.45"/><circle cx="406.9" cy="302.2" r="1.45"/><circle cx="404.5" cy="303.5" r="1.45"/><circle cx="406.3" cy="311" r="1.45"/><circle cx="404.9" cy="313.6" r="1.45"/><circle cx="405.1" cy="325.2" r="1.45"/><circle cx="468" cy="147.5" r="1.45"/><circle cx="468" cy="150.9" r="1.45"/><circle cx="469.7" cy="159.5" r="1.45"/><circle cx="467.8" cy="161.9" r="1.45"/><circle cx="468" cy="169.5" r="1.45"/><circle cx="468" cy="180.4" r="1.45"/><circle cx="468" cy="203" r="1.45"/><circle cx="468" cy="206.4" r="1.45"/><circle cx="465.9" cy="211.3" r="1.45"/><circle cx="467.8" cy="210.2" r="1.45"/><circle cx="469.7" cy="210.7" r="1.45"/><circle cx="471.1" cy="211.2" r="1.45"/><circle cx="467.3" cy="213.6" r="1.45"/><circle cx="468.8" cy="214.5" r="1.45"/><circle cx="468" cy="221.8" r="1.45"/><circle cx="468" cy="225.1" r="1.45"/><circle cx="468" cy="229.9" r="1.45"/><circle cx="468" cy="238" r="1.45"/><circle cx="468" cy="249.8" r="1.45"/><circle cx="468" cy="260.7" r="1.45"/><circle cx="468" cy="279.7" r="1.45"/><circle cx="499.5" cy="130.7" r="1.45"/><circle cx="499.5" cy="137" r="1.45"/><circle cx="499.5" cy="146.6" r="1.45"/><circle cx="499.5" cy="153.7" r="1.45"/><circle cx="499.5" cy="156.8" r="1.45"/><circle cx="501.8" cy="157.1" r="1.45"/><circle cx="499.5" cy="163.3" r="1.45"/><circle cx="499.5" cy="167" r="1.45"/><circle cx="499.5" cy="179.8" r="1.45"/><circle cx="498.9" cy="193.6" r="1.45"/><circle cx="501.3" cy="193.5" r="1.45"/><circle cx="500.8" cy="215.1" r="1.45"/><circle cx="498.9" cy="217.9" r="1.45"/><circle cx="500.3" cy="219.4" r="1.45"/><circle cx="498.9" cy="221.8" r="1.45"/><circle cx="500.3" cy="222.7" r="1.45"/><circle cx="499.4" cy="224.6" r="1.45"/><circle cx="500.3" cy="228.5" r="1.45"/><circle cx="497.5" cy="230.4" r="1.45"/><circle cx="499.4" cy="231.3" r="1.45"/><circle cx="500.8" cy="235.6" r="1.45"/><circle cx="499.5" cy="243.8" r="1.45"/><circle cx="499.5" cy="252.7" r="1.45"/><circle cx="499.5" cy="260.6" r="1.45"/><circle cx="499.5" cy="295" r="1.45"/><circle cx="501.3" cy="295" r="1.45"/><circle cx="531" cy="146" r="1.45"/><circle cx="531" cy="194.5" r="1.45"/><circle cx="531" cy="202.7" r="1.45"/><circle cx="531" cy="220.9" r="1.45"/><circle cx="531" cy="225.9" r="1.45"/><circle cx="531" cy="237.3" r="1.45"/><circle cx="532.5" cy="241.8" r="1.45"/><circle cx="530.7" cy="243.6" r="1.45"/><circle cx="528.9" cy="247.3" r="1.45"/><circle cx="531.2" cy="246.8" r="1.45"/><circle cx="534.8" cy="247.7" r="1.45"/><circle cx="530.7" cy="249.1" r="1.45"/><circle cx="532.1" cy="255.9" r="1.45"/><circle cx="528.9" cy="257.7" r="1.45"/><circle cx="531.6" cy="258.2" r="1.45"/><circle cx="529.4" cy="260" r="1.45"/><circle cx="532.5" cy="260" r="1.45"/><circle cx="530.7" cy="260.9" r="1.45"/><circle cx="528.2" cy="268.9" r="1.45"/><circle cx="530.3" cy="269.3" r="1.45"/><circle cx="533.1" cy="268.9" r="1.45"/><circle cx="528.5" cy="277" r="1.45"/><circle cx="530.6" cy="275.6" r="1.45"/><circle cx="532.8" cy="277" r="1.45"/><circle cx="531" cy="278" r="1.45"/><circle cx="532.1" cy="282" r="1.45"/><circle cx="530.6" cy="284.4" r="1.45"/><circle cx="532.8" cy="286.9" r="1.45"/><circle cx="530.6" cy="288.3" r="1.45"/><circle cx="528.2" cy="293.6" r="1.45"/><circle cx="530.6" cy="293.6" r="1.45"/><circle cx="533.5" cy="293.6" r="1.45"/><circle cx="535.6" cy="293.6" r="1.45"/><circle cx="528.5" cy="297.5" r="1.45"/><circle cx="530.6" cy="297.1" r="1.45"/><circle cx="533.1" cy="297.8" r="1.45"/><circle cx="527.1" cy="299.6" r="1.45"/><circle cx="529.9" cy="299.9" r="1.45"/><circle cx="531" cy="301.7" r="1.45"/><circle cx="526.8" cy="303.1" r="1.45"/><circle cx="528.9" cy="303.5" r="1.45"/><circle cx="531.7" cy="303.8" r="1.45"/><circle cx="534.2" cy="304.5" r="1.45"/><circle cx="528.2" cy="307" r="1.45"/><circle cx="531" cy="306.6" r="1.45"/><circle cx="533.5" cy="307.7" r="1.45"/><circle cx="532.4" cy="309.8" r="1.45"/><circle cx="531" cy="312" r="1.45"/><circle cx="530.6" cy="315.5" r="1.45"/><circle cx="532.1" cy="318" r="1.45"/><circle cx="530.6" cy="320.8" r="1.45"/><circle cx="530.6" cy="325.7" r="1.45"/><circle cx="533.1" cy="325.7" r="1.45"/><circle cx="531" cy="328.9" r="1.45"/><circle cx="583.88" cy="127.56" r="1.45"/><circle cx="585.68" cy="127.87" r="1.45"/><circle cx="586.32" cy="127.5" r="1.45"/><circle cx="587.91" cy="128.06" r="1.45"/><circle cx="589" cy="128.38" r="1.45"/><circle cx="589.62" cy="127.73" r="1.45"/><circle cx="591.25" cy="127.83" r="1.45"/><circle cx="591.55" cy="128.55" r="1.45"/><circle cx="592.75" cy="127.61" r="1.45"/><circle cx="594.14" cy="127.68" r="1.45"/><circle cx="595" cy="128.11" r="1.45"/><circle cx="596.29" cy="127.4" r="1.45"/><circle cx="597.56" cy="127.84" r="1.45"/><circle cx="598.81" cy="128.54" r="1.45"/><circle cx="599.84" cy="128.02" r="1.45"/><circle cx="600.33" cy="128.21" r="1.45"/><circle cx="602.24" cy="128.48" r="1.45"/><circle cx="603.38" cy="128.45" r="1.45"/><circle cx="590.05" cy="127.83" r="1.45"/><circle cx="591.44" cy="127.37" r="1.45"/><circle cx="591.93" cy="127.3" r="1.45"/><circle cx="593.16" cy="127.53" r="1.45"/><circle cx="594.16" cy="127.74" r="1.45"/><circle cx="595.4" cy="127.2" r="1.45"/><circle cx="596.76" cy="127.36" r="1.45"/><circle cx="598.46" cy="127.24" r="1.45"/><circle cx="590.86" cy="130.34" r="1.45"/><circle cx="592.96" cy="129.73" r="1.45"/><circle cx="594.31" cy="129.92" r="1.45"/><circle cx="597.59" cy="130.74" r="1.45"/><circle cx="594.4" cy="135" r="1.45"/><circle cx="593.3" cy="136.8" r="1.45"/><circle cx="593.6" cy="140.9" r="1.45"/><circle cx="593.6" cy="148.8" r="1.45"/><circle cx="615.26" cy="129.26" r="1.45"/><circle cx="615.73" cy="127.66" r="1.45"/><circle cx="616.6" cy="128.74" r="1.45"/><circle cx="617.27" cy="130.78" r="1.45"/><circle cx="618.61" cy="127.4" r="1.45"/><circle cx="618.76" cy="129.52" r="1.45"/><circle cx="619.42" cy="129.58" r="1.45"/><circle cx="620.88" cy="129.52" r="1.45"/><circle cx="621.42" cy="130.93" r="1.45"/><circle cx="621.93" cy="128.4" r="1.45"/><circle cx="622.98" cy="128" r="1.45"/><circle cx="623.73" cy="129.54" r="1.45"/><circle cx="624.07" cy="128.68" r="1.45"/><circle cx="625.39" cy="130.71" r="1.45"/><circle cx="626" cy="130.88" r="1.45"/><circle cx="626.7" cy="130.74" r="1.45"/><circle cx="627.29" cy="128.25" r="1.45"/><circle cx="627.67" cy="128.79" r="1.45"/><circle cx="628.61" cy="127.42" r="1.45"/><circle cx="629.67" cy="128.39" r="1.45"/><circle cx="630.24" cy="131.32" r="1.45"/><circle cx="631.39" cy="131.24" r="1.45"/><circle cx="631.67" cy="131.31" r="1.45"/><circle cx="632.32" cy="128.23" r="1.45"/><circle cx="633.05" cy="128.13" r="1.45"/><circle cx="634.33" cy="129.92" r="1.45"/><circle cx="634.76" cy="130.83" r="1.45"/><circle cx="635.75" cy="130.04" r="1.45"/><circle cx="623.47" cy="131.05" r="1.45"/><circle cx="622.4" cy="132.07" r="1.45"/><circle cx="624.38" cy="132.65" r="1.45"/><circle cx="625.54" cy="133.27" r="1.45"/><circle cx="626.78" cy="133.6" r="1.45"/><circle cx="623.4" cy="135.4" r="1.45"/><circle cx="625.1" cy="136.3" r="1.45"/><circle cx="626.9" cy="137.2" r="1.45"/><circle cx="625.4" cy="140.9" r="1.45"/><circle cx="626" cy="146.3" r="1.45"/><circle cx="625.4" cy="148.8" r="1.45"/><circle cx="625.4" cy="153.5" r="1.45"/><circle cx="625.4" cy="165.4" r="1.45"/><circle cx="625.4" cy="194.1" r="1.45"/><circle cx="651.44" cy="127.66" r="1.45"/><circle cx="652.22" cy="130.25" r="1.45"/><circle cx="652.46" cy="126.6" r="1.45"/><circle cx="653.51" cy="126.51" r="1.45"/><circle cx="653.65" cy="129.59" r="1.45"/><circle cx="654.73" cy="129.68" r="1.45"/><circle cx="654.95" cy="128.89" r="1.45"/><circle cx="655.41" cy="128.38" r="1.45"/><circle cx="656.5" cy="125.87" r="1.45"/><circle cx="656.83" cy="128.85" r="1.45"/><circle cx="657.37" cy="130.19" r="1.45"/><circle cx="658.19" cy="129.9" r="1.45"/><circle cx="658.44" cy="126.79" r="1.45"/><circle cx="659.02" cy="127.18" r="1.45"/><circle cx="659.63" cy="128.56" r="1.45"/><circle cx="660.14" cy="127.77" r="1.45"/><circle cx="660.86" cy="130.08" r="1.45"/><circle cx="661.59" cy="127.95" r="1.45"/><circle cx="662.08" cy="130.05" r="1.45"/><circle cx="662.72" cy="130.11" r="1.45"/><circle cx="663.33" cy="128.3" r="1.45"/><circle cx="663.87" cy="125.89" r="1.45"/><circle cx="651.7" cy="130.23" r="1.45"/><circle cx="652.58" cy="132.7" r="1.45"/><circle cx="653.74" cy="131.39" r="1.45"/><circle cx="654.19" cy="131.73" r="1.45"/><circle cx="655.12" cy="131.57" r="1.45"/><circle cx="655.53" cy="132.64" r="1.45"/><circle cx="656.39" cy="131.74" r="1.45"/><circle cx="657.53" cy="130.61" r="1.45"/><circle cx="658.12" cy="131.53" r="1.45"/><circle cx="659.13" cy="132.54" r="1.45"/><circle cx="659.66" cy="131.27" r="1.45"/><circle cx="660.33" cy="131.52" r="1.45"/><circle cx="653.9" cy="137.5" r="1.45"/><circle cx="656.7" cy="137" r="1.45"/><circle cx="658.4" cy="136.6" r="1.45"/><circle cx="653.3" cy="141.7" r="1.45"/><circle cx="655.5" cy="142.1" r="1.45"/><circle cx="657.7" cy="141.1" r="1.45"/><circle cx="659.7" cy="140.8" r="1.45"/><circle cx="656.4" cy="147.7" r="1.45"/><circle cx="656.1" cy="150" r="1.45"/><circle cx="656.1" cy="152.7" r="1.45"/><circle cx="657.8" cy="154.4" r="1.45"/><circle cx="656.4" cy="156.3" r="1.45"/><circle cx="656.1" cy="165.5" r="1.45"/><circle cx="656.7" cy="169.4" r="1.45"/><circle cx="656.7" cy="179.6" r="1.45"/><circle cx="656.7" cy="210.5" r="1.45"/><circle cx="656.2" cy="288.4" r="1.45"/><circle cx="658.4" cy="288.4" r="1.45"/><circle cx="656.7" cy="326.5" r="1.45"/></g><rect x="44" y="773.15" width="660" height="143.05" fill="#c0c0c0"/><line x1="44.03" y1="772.55" x2="704" y2="772.55" stroke="#939393" stroke-width="1.5" stroke-dasharray="5.2 4.67"/><line x1="44" y1="628.4" x2="44" y2="916.9" stroke="#333" stroke-width="1.9"/><line x1="43.3" y1="916.2" x2="183" y2="916.2" stroke="#111" stroke-width="1.5"/><line x1="183" y1="916.8" x2="704" y2="916.8" stroke="#111" stroke-width="1.7"/><line x1="41.4" y1="628.9" x2="44" y2="628.9" stroke="#333" stroke-width="1.5"/><text x="38.2" y="631.4" font-size="7" text-anchor="end" font-weight="bold" fill="#000" >100</text><line x1="41.4" y1="649.42" x2="44" y2="649.42" stroke="#333" stroke-width="1.5"/><text x="38.2" y="651.92" font-size="7" text-anchor="end" font-weight="bold" fill="#000" >90</text><line x1="41.4" y1="669.94" x2="44" y2="669.94" stroke="#333" stroke-width="1.5"/><text x="38.2" y="672.44" font-size="7" text-anchor="end" font-weight="bold" fill="#000" >80</text><line x1="41.4" y1="690.46" x2="44" y2="690.46" stroke="#333" stroke-width="1.5"/><text x="38.2" y="692.96" font-size="7" text-anchor="end" font-weight="bold" fill="#000" >70</text><line x1="41.4" y1="710.99" x2="44" y2="710.99" stroke="#333" stroke-width="1.5"/><text x="38.2" y="713.49" font-size="7" text-anchor="end" font-weight="bold" fill="#000" >60</text><line x1="41.4" y1="731.51" x2="44" y2="731.51" stroke="#333" stroke-width="1.5"/><text x="38.2" y="734.01" font-size="7" text-anchor="end" font-weight="bold" fill="#000" >50</text><line x1="41.4" y1="752.03" x2="44" y2="752.03" stroke="#333" stroke-width="1.5"/><text x="38.2" y="754.53" font-size="7" text-anchor="end" font-weight="bold" fill="#000" >40</text><line x1="41.4" y1="772.55" x2="44" y2="772.55" stroke="#333" stroke-width="1.5"/><text x="38.2" y="775.05" font-size="7" text-anchor="end" font-weight="bold" fill="#000" >30</text><line x1="41.4" y1="793.07" x2="44" y2="793.07" stroke="#333" stroke-width="1.5"/><text x="38.2" y="795.57" font-size="7" text-anchor="end" font-weight="bold" fill="#000" >20</text><line x1="41.4" y1="813.59" x2="44" y2="813.59" stroke="#333" stroke-width="1.5"/><text x="38.2" y="816.09" font-size="7" text-anchor="end" font-weight="bold" fill="#000" >10</text><line x1="41.4" y1="834.11" x2="44" y2="834.11" stroke="#333" stroke-width="1.5"/><text x="38.2" y="836.61" font-size="7" text-anchor="end" font-weight="bold" fill="#000" >0</text><line x1="41.4" y1="854.64" x2="44" y2="854.64" stroke="#333" stroke-width="1.5"/><text x="38.2" y="857.14" font-size="7" text-anchor="end" font-weight="bold" fill="#000" >-10</text><line x1="41.4" y1="875.16" x2="44" y2="875.16" stroke="#333" stroke-width="1.5"/><text x="38.2" y="877.66" font-size="7" text-anchor="end" font-weight="bold" fill="#000" >-20</text><line x1="41.4" y1="895.68" x2="44" y2="895.68" stroke="#333" stroke-width="1.5"/><text x="38.2" y="898.18" font-size="7" text-anchor="end" font-weight="bold" fill="#000" >-30</text><line x1="41.4" y1="916.2" x2="44" y2="916.2" stroke="#333" stroke-width="1.5"/><text x="38.2" y="918.7" font-size="7" text-anchor="end" font-weight="bold" fill="#000" >-40</text><g transform="translate(7.9,755.8) rotate(-90)"><text x="0" y="0" font-size="10" text-anchor="middle">Percentage Neutralization</text></g><g transform="translate(18.6,755.8) rotate(-90)"><text x="0" y="0" font-size="10" text-anchor="middle">(Omicron BA.1 variant)</text></g><text x="91" y="933.7" font-size="10" text-anchor="middle" font-weight="normal" fill="#000" >HW</text><text x="122.6" y="933.7" font-size="10" text-anchor="middle" font-weight="normal" fill="#000" >OP</text><text x="154.4" y="933.7" font-size="10" text-anchor="middle" font-weight="normal" fill="#000" >LTCFs</text><rect x="79.8" y="945.7" width="85.9" height="19.8" fill="#d9d9d9"/><text x="122.75" y="959.2" font-size="10" text-anchor="middle" font-weight="bold" fill="#000" >Baseline Period</text><text x="216.1" y="933.7" font-size="10" text-anchor="middle" font-weight="normal" fill="#000" >HW</text><text x="247.2" y="933.7" font-size="10" text-anchor="middle" font-weight="normal" fill="#000" >OP</text><text x="279.3" y="933.7" font-size="10" text-anchor="middle" font-weight="normal" fill="#000" >LTCFs</text><rect x="204.9" y="946.4" width="86.3" height="19.8" fill="#d9d9d9"/><text x="248.05" y="959.9" font-size="10" text-anchor="middle" font-weight="bold" fill="#000" >Period 1</text><text x="342.7" y="933.7" font-size="10" text-anchor="middle" font-weight="normal" fill="#000" >HW</text><text x="373.6" y="933.7" font-size="10" text-anchor="middle" font-weight="normal" fill="#000" >OP</text><text x="404.8" y="933.7" font-size="10" text-anchor="middle" font-weight="normal" fill="#000" >LTCFs</text><rect x="330.9" y="945.7" width="85.9" height="19.8" fill="#d9d9d9"/><text x="373.85" y="959.2" font-size="10" text-anchor="middle" font-weight="bold" fill="#000" >Period 2</text><text x="468.6" y="933.7" font-size="10" text-anchor="middle" font-weight="normal" fill="#000" >HW</text><text x="499" y="933.7" font-size="10" text-anchor="middle" font-weight="normal" fill="#000" >OP</text><text x="530.8" y="933.7" font-size="10" text-anchor="middle" font-weight="normal" fill="#000" >LTCFs</text><rect x="456.9" y="945.7" width="85.9" height="19.8" fill="#d9d9d9"/><text x="499.85" y="959.2" font-size="10" text-anchor="middle" font-weight="bold" fill="#000" >Period 3</text><text x="593.5" y="933.7" font-size="10" text-anchor="middle" font-weight="normal" fill="#000" >HW</text><text x="624.4" y="933.7" font-size="10" text-anchor="middle" font-weight="normal" fill="#000" >OP</text><text x="656.1" y="933.7" font-size="10" text-anchor="middle" font-weight="normal" fill="#000" >LTCFs</text><rect x="582.3" y="946.4" width="85.8" height="19.8" fill="#d9d9d9"/><text x="625.2" y="959.9" font-size="10" text-anchor="middle" font-weight="bold" fill="#000" >Period 4</text><text x="15.2" y="985.7" font-size="22.5" text-anchor="start" font-weight="normal" fill="#000" >(D)</text><text x="184.7" y="514.5" font-size="10" text-anchor="middle" font-weight="normal" fill="#000" >Primary</text><text x="184.7" y="526.4" font-size="10" text-anchor="middle" font-weight="normal" fill="#000" >vax</text><text x="563.3" y="514.8" font-size="10" text-anchor="middle" font-weight="normal" fill="#000" >Booster</text><text x="563.3" y="526.9" font-size="10" text-anchor="middle" font-weight="normal" fill="#000" >vax</text><g transform="translate(169.3,550.3) rotate(-45)"><path d="M0,-0.5 L6.2,-0.65 L6.2,0.65 L0,0.5Z" fill="#000"/><path d="M6,-0.9 L8.8,-2.5 L19.5,-2.5 L19.5,2.5 L8.8,2.5 L6,0.9Z" fill="#000"/><rect x="19.3" y="-3.8" width="1.5" height="7.6" fill="#000"/><rect x="20.6" y="-1" width="2.6" height="2" fill="#000"/><rect x="23" y="-2.8" width="1.5" height="5.6" fill="#000"/><path d="M12,-0.2 L17.6,-0.2 M13,-0.2 L13,-1.6 M14.8,-0.2 L14.8,-1.6 M16.6,-0.2 L16.6,-1.6" stroke="#fff" stroke-width="0.75" fill="none"/></g><g transform="translate(181.3,550.3) rotate(-45)"><path d="M0,-0.5 L6.2,-0.65 L6.2,0.65 L0,0.5Z" fill="#000"/><path d="M6,-0.9 L8.8,-2.5 L19.5,-2.5 L19.5,2.5 L8.8,2.5 L6,0.9Z" fill="#000"/><rect x="19.3" y="-3.8" width="1.5" height="7.6" fill="#000"/><rect x="20.6" y="-1" width="2.6" height="2" fill="#000"/><rect x="23" y="-2.8" width="1.5" height="5.6" fill="#000"/><path d="M12,-0.2 L17.6,-0.2 M13,-0.2 L13,-1.6 M14.8,-0.2 L14.8,-1.6 M16.6,-0.2 L16.6,-1.6" stroke="#fff" stroke-width="0.75" fill="none"/></g><g transform="translate(554.4,551.8) rotate(-45)"><path d="M0,-0.5 L6.2,-0.65 L6.2,0.65 L0,0.5Z" fill="#000"/><path d="M6,-0.9 L8.8,-2.5 L19.5,-2.5 L19.5,2.5 L8.8,2.5 L6,0.9Z" fill="#000"/><rect x="19.3" y="-3.8" width="1.5" height="7.6" fill="#000"/><rect x="20.6" y="-1" width="2.6" height="2" fill="#000"/><rect x="23" y="-2.8" width="1.5" height="5.6" fill="#000"/><path d="M12,-0.2 L17.6,-0.2 M13,-0.2 L13,-1.6 M14.8,-0.2 L14.8,-1.6 M16.6,-0.2 L16.6,-1.6" stroke="#fff" stroke-width="0.75" fill="none"/></g><text x="90.55" y="600.8" font-size="7.5" text-anchor="middle" font-weight="normal" fill="#000" >0/21</text><text x="90.55" y="609.2" font-size="7.5" text-anchor="middle" font-weight="normal" fill="#000" >(0%)</text><text x="122.7" y="600.8" font-size="7.5" text-anchor="middle" font-weight="normal" fill="#000" >0/29</text><text x="122.7" y="609.2" font-size="7.5" text-anchor="middle" font-weight="normal" fill="#000" >(0%)</text><text x="154.55" y="600.8" font-size="7.5" text-anchor="middle" font-weight="normal" fill="#000" >1/64</text><text x="154.55" y="609.2" font-size="7.5" text-anchor="middle" font-weight="normal" fill="#000" >(2%)</text><text x="216.05" y="600.8" font-size="7.5" text-anchor="middle" font-weight="normal" fill="#000" >1/20</text><text x="216.05" y="609.2" font-size="7.5" text-anchor="middle" font-weight="normal" fill="#000" >(5%)</text><text x="205.25" y="625.4" font-size="7.5" text-anchor="start" font-weight="normal" fill="#000" >0.11</text><path d="M221.85,620.8 L225.65,624.6 M225.65,620.8 L221.85,624.6" stroke="#222" stroke-width="0.9" fill="none"/><text x="247.95" y="600.8" font-size="7.5" text-anchor="middle" font-weight="normal" fill="#000" >3/26</text><text x="247.95" y="609.2" font-size="7.5" text-anchor="middle" font-weight="normal" fill="#000" >(12%)</text><text x="237.15" y="625.4" font-size="7.5" text-anchor="start" font-weight="normal" fill="#000" >0.05</text><path d="M253.75,620.8 L257.55,624.6 M257.55,620.8 L253.75,624.6" stroke="#222" stroke-width="0.9" fill="none"/><text x="279.15" y="600.8" font-size="7.5" text-anchor="middle" font-weight="normal" fill="#000" >2/64</text><text x="279.15" y="609.2" font-size="7.5" text-anchor="middle" font-weight="normal" fill="#000" >(3%)</text><text x="268.35" y="625.4" font-size="7.5" text-anchor="start" font-weight="normal" fill="#000" >0.12</text><path d="M284.95,620.8 L288.75,624.6 M288.75,620.8 L284.95,624.6" stroke="#222" stroke-width="0.9" fill="none"/><text x="342.05" y="600.8" font-size="7.5" text-anchor="middle" font-weight="normal" fill="#000" >0/21</text><text x="342.05" y="609.2" font-size="7.5" text-anchor="middle" font-weight="normal" fill="#000" >(0%)</text><text x="331.25" y="625.4" font-size="7.5" text-anchor="start" font-weight="normal" fill="#000" >0.02</text><path d="M347.85,620.8 L351.65,624.6 M351.65,620.8 L347.85,624.6" stroke="#222" stroke-width="0.9" fill="none"/><text x="373.75" y="600.8" font-size="7.5" text-anchor="middle" font-weight="normal" fill="#000" >1/17</text><text x="373.75" y="609.2" font-size="7.5" text-anchor="middle" font-weight="normal" fill="#000" >(6%)</text><text x="362.95" y="625.4" font-size="7.5" text-anchor="start" font-weight="normal" fill="#000" >0.03</text><path d="M379.55,620.8 L383.35,624.6 M383.35,620.8 L379.55,624.6" stroke="#222" stroke-width="0.9" fill="none"/><text x="404.4" y="600.8" font-size="7.5" text-anchor="middle" font-weight="normal" fill="#000" >1/63</text><text x="404.4" y="609.2" font-size="7.5" text-anchor="middle" font-weight="normal" fill="#000" >(2%)</text><text x="393.6" y="625.4" font-size="7.5" text-anchor="start" font-weight="normal" fill="#000" >0.11</text><path d="M410.2,620.8 L414,624.6 M414,620.8 L410.2,624.6" stroke="#222" stroke-width="0.9" fill="none"/><text x="469.35" y="600.8" font-size="7.5" text-anchor="middle" font-weight="normal" fill="#000" >0/21</text><text x="469.35" y="609.2" font-size="7.5" text-anchor="middle" font-weight="normal" fill="#000" >(0%)</text><text x="456.75" y="625.4" font-size="7.5" text-anchor="start" font-weight="normal" fill="#000" >0.04</text><path d="M473.35,620.8 L477.15,624.6 M477.15,620.8 L473.35,624.6" stroke="#222" stroke-width="0.9" fill="none"/><text x="500.95" y="600.8" font-size="7.5" text-anchor="middle" font-weight="normal" fill="#000" >0/28</text><text x="500.95" y="609.2" font-size="7.5" text-anchor="middle" font-weight="normal" fill="#000" >(0%)</text><text x="488.35" y="625.4" font-size="7.5" text-anchor="start" font-weight="normal" fill="#000" >0.06</text><path d="M504.95,620.8 L508.75,624.6 M508.75,620.8 L504.95,624.6" stroke="#222" stroke-width="0.9" fill="none"/><text x="531.9" y="600.8" font-size="7.5" text-anchor="middle" font-weight="normal" fill="#000" >0/57</text><text x="531.9" y="609.2" font-size="7.5" text-anchor="middle" font-weight="normal" fill="#000" >(0%)</text><text x="519.3" y="625.4" font-size="7.5" text-anchor="start" font-weight="normal" fill="#000" >0.11</text><path d="M535.9,620.8 L539.7,624.6 M539.7,620.8 L535.9,624.6" stroke="#222" stroke-width="0.9" fill="none"/><text x="593.75" y="600.8" font-size="7.5" text-anchor="middle" font-weight="normal" fill="#000" >11/21</text><text x="593.75" y="609.2" font-size="7.5" text-anchor="middle" font-weight="normal" fill="#000" >(52%)</text><text x="582.95" y="625.4" font-size="7.5" text-anchor="start" font-weight="normal" fill="#000" >0.36</text><path d="M599.55,620.8 L603.35,624.6 M603.35,620.8 L599.55,624.6" stroke="#222" stroke-width="0.9" fill="none"/><text x="625.1" y="600.8" font-size="7.5" text-anchor="middle" font-weight="normal" fill="#000" >14/26</text><text x="625.1" y="609.2" font-size="7.5" text-anchor="middle" font-weight="normal" fill="#000" >(54%)</text><text x="614.3" y="625.4" font-size="7.5" text-anchor="start" font-weight="normal" fill="#000" >0.35</text><path d="M630.9,620.8 L634.7,624.6 M634.7,620.8 L630.9,624.6" stroke="#222" stroke-width="0.9" fill="none"/><text x="656.6" y="600.8" font-size="7.5" text-anchor="middle" font-weight="normal" fill="#000" >18/46</text><text x="656.6" y="609.2" font-size="7.5" text-anchor="middle" font-weight="normal" fill="#000" >(39%)</text><text x="645.8" y="625.4" font-size="7.5" text-anchor="start" font-weight="normal" fill="#000" >0.20</text><path d="M662.4,620.8 L666.2,624.6 M666.2,620.8 L662.4,624.6" stroke="#222" stroke-width="0.9" fill="none"/><path d="M593.1,569 V560.6 H656.2 V569" stroke="#000" stroke-width="1.2" fill="none"/><text x="624.65" y="558.5" font-size="7.5" text-anchor="middle" font-weight="normal" fill="#000" >p=1.00</text><path d="M593.3,588.8 V582.5 H622.2 V588.8" stroke="#000" stroke-width="1.2" fill="none"/><text x="607.75" y="579.8" font-size="7.5" text-anchor="middle" font-weight="normal" fill="#000" >p=1.00</text><path d="M628.1,588.8 V582.5 H656.3 V588.8" stroke="#000" stroke-width="1.2" fill="none"/><text x="642.2" y="579.8" font-size="7.5" text-anchor="middle" font-weight="normal" fill="#000" >p=1.00</text><g stroke="#000" stroke-width="1.3" fill="none"><line x1="91.05" y1="814.2" x2="91.05" y2="820.5"/><line x1="91.05" y1="828.6" x2="91.05" y2="839.2"/><line x1="79.25" y1="814.2" x2="102.85" y2="814.2"/><line x1="79.25" y1="839.2" x2="102.85" y2="839.2"/><rect x="79.25" y="820.5" width="23.6" height="8.1"/><line x1="79.25" y1="823.1" x2="102.85" y2="823.1"/></g><g stroke="#000" stroke-width="1.3" fill="none"><line x1="122.55" y1="812.7" x2="122.55" y2="820"/><line x1="122.55" y1="825.1" x2="122.55" y2="830.4"/><line x1="110.75" y1="812.7" x2="134.35" y2="812.7"/><line x1="110.75" y1="830.4" x2="134.35" y2="830.4"/><rect x="110.75" y="820" width="23.6" height="5.1"/><line x1="110.75" y1="822.3" x2="134.35" y2="822.3"/></g><g stroke="#000" stroke-width="1.3" fill="none"><line x1="154.15" y1="787.7" x2="154.15" y2="804.4"/><line x1="154.15" y1="817.3" x2="154.15" y2="832.9"/><line x1="142.35" y1="787.7" x2="165.95" y2="787.7"/><line x1="142.35" y1="832.9" x2="165.95" y2="832.9"/><rect x="142.35" y="804.4" width="23.6" height="12.9"/><line x1="142.35" y1="811.4" x2="165.95" y2="811.4"/></g><g stroke="#000" stroke-width="1.3" fill="none"><line x1="216.55" y1="762.6" x2="216.55" y2="798.7"/><line x1="216.55" y1="842.4" x2="216.55" y2="858.2"/><line x1="204.75" y1="762.6" x2="228.35" y2="762.6"/><line x1="204.75" y1="858.2" x2="228.35" y2="858.2"/><rect x="204.75" y="798.7" width="23.6" height="43.7"/><line x1="204.75" y1="813.2" x2="228.35" y2="813.2"/></g><g stroke="#000" stroke-width="1.3" fill="none"><line x1="248.25" y1="788.3" x2="248.25" y2="809.6"/><line x1="248.25" y1="833.8" x2="248.25" y2="859.4"/><line x1="236.45" y1="788.3" x2="260.05" y2="788.3"/><line x1="236.45" y1="859.4" x2="260.05" y2="859.4"/><rect x="236.45" y="809.6" width="23.6" height="24.2"/><line x1="236.45" y1="824.6" x2="260.05" y2="824.6"/></g><g stroke="#000" stroke-width="1.3" fill="none"><line x1="280.15" y1="778.6" x2="280.15" y2="799.5"/><line x1="280.15" y1="820.2" x2="280.15" y2="848.8"/><line x1="268.35" y1="778.6" x2="291.95" y2="778.6"/><line x1="268.35" y1="848.8" x2="291.95" y2="848.8"/><rect x="268.35" y="799.5" width="23.6" height="20.7"/><line x1="268.35" y1="811.4" x2="291.95" y2="811.4"/></g><g stroke="#000" stroke-width="1.3" fill="none"><line x1="342.55" y1="780.7" x2="342.55" y2="809.5"/><line x1="342.55" y1="838.4" x2="342.55" y2="860.2"/><line x1="330.75" y1="780.7" x2="354.35" y2="780.7"/><line x1="330.75" y1="860.2" x2="354.35" y2="860.2"/><rect x="330.75" y="809.5" width="23.6" height="28.9"/><line x1="330.75" y1="830.4" x2="354.35" y2="830.4"/></g><g stroke="#000" stroke-width="1.3" fill="none"><line x1="374.15" y1="798.2" x2="374.15" y2="815.3"/><line x1="374.15" y1="837.1" x2="374.15" y2="867"/><line x1="362.35" y1="798.2" x2="385.95" y2="798.2"/><line x1="362.35" y1="867" x2="385.95" y2="867"/><rect x="362.35" y="815.3" width="23.6" height="21.8"/><line x1="362.35" y1="827.5" x2="385.95" y2="827.5"/></g><g stroke="#000" stroke-width="1.3" fill="none"><line x1="405.65" y1="796.1" x2="405.65" y2="808.6"/><line x1="405.65" y1="825.1" x2="405.65" y2="848.3"/><line x1="393.85" y1="796.1" x2="417.45" y2="796.1"/><line x1="393.85" y1="848.3" x2="417.45" y2="848.3"/><rect x="393.85" y="808.6" width="23.6" height="16.5"/><line x1="393.85" y1="813" x2="417.45" y2="813"/></g><g stroke="#000" stroke-width="1.3" fill="none"><line x1="468.55" y1="801" x2="468.55" y2="819.2"/><line x1="468.55" y1="835.6" x2="468.55" y2="839.9"/><line x1="456.75" y1="801" x2="480.35" y2="801"/><line x1="456.75" y1="839.9" x2="480.35" y2="839.9"/><rect x="456.75" y="819.2" width="23.6" height="16.4"/><line x1="456.75" y1="828.1" x2="480.35" y2="828.1"/></g><g stroke="#000" stroke-width="1.3" fill="none"><line x1="500.05" y1="805.2" x2="500.05" y2="814.8"/><line x1="500.05" y1="825" x2="500.05" y2="835.9"/><line x1="488.25" y1="805.2" x2="511.85" y2="805.2"/><line x1="488.25" y1="835.9" x2="511.85" y2="835.9"/><rect x="488.25" y="814.8" width="23.6" height="10.2"/><line x1="488.25" y1="823.1" x2="511.85" y2="823.1"/></g><g stroke="#000" stroke-width="1.3" fill="none"><line x1="531.55" y1="800.2" x2="531.55" y2="806.3"/><line x1="531.55" y1="822.3" x2="531.55" y2="839"/><line x1="519.75" y1="800.2" x2="543.35" y2="800.2"/><line x1="519.75" y1="839" x2="543.35" y2="839"/><rect x="519.75" y="806.3" width="23.6" height="16"/><line x1="519.75" y1="813.4" x2="543.35" y2="813.4"/></g><g stroke="#000" stroke-width="1.3" fill="none"><line x1="593.6" y1="649.7" x2="593.6" y2="723"/><line x1="593.6" y1="813.9" x2="593.6" y2="869.4"/><line x1="581.8" y1="649.7" x2="605.4" y2="649.7"/><line x1="581.8" y1="869.4" x2="605.4" y2="869.4"/><rect x="581.8" y="723" width="23.6" height="90.9"/><line x1="581.8" y1="764.6" x2="605.4" y2="764.6"/></g><g stroke="#000" stroke-width="1.3" fill="none"><line x1="625.4" y1="657.4" x2="625.4" y2="711.4"/><line x1="625.4" y1="814.3" x2="625.4" y2="914.8"/><line x1="613.6" y1="657.4" x2="637.2" y2="657.4"/><line x1="613.6" y1="914.8" x2="637.2" y2="914.8"/><rect x="613.6" y="711.4" width="23.6" height="102.9"/><line x1="613.6" y1="767.7" x2="637.2" y2="767.7"/></g><g stroke="#000" stroke-width="1.3" fill="none"><line x1="656.7" y1="639.9" x2="656.7" y2="730.1"/><line x1="656.7" y1="825" x2="656.7" y2="908.5"/><line x1="644.9" y1="639.9" x2="668.5" y2="639.9"/><line x1="644.9" y1="908.5" x2="668.5" y2="908.5"/><rect x="644.9" y="730.1" width="23.6" height="94.9"/><line x1="644.9" y1="796.6" x2="668.5" y2="796.6"/></g><g fill="#000"><circle cx="91.85" cy="814" r="1.45"/><circle cx="93.55" cy="815.3" r="1.45"/><circle cx="90.15" cy="818.3" r="1.45"/><circle cx="91.45" cy="819.1" r="1.45"/><circle cx="92.65" cy="820" r="1.45"/><circle cx="89.35" cy="822.1" r="1.45"/><circle cx="92.25" cy="822.1" r="1.45"/><circle cx="94.35" cy="821.7" r="1.45"/><circle cx="91.45" cy="823.4" r="1.45"/><circle cx="90.15" cy="828" r="1.45"/><circle cx="93.15" cy="827.2" r="1.45"/><circle cx="89.35" cy="830.2" r="1.45"/><circle cx="92.25" cy="829.3" r="1.45"/><circle cx="90.55" cy="831" r="1.45"/><circle cx="91.45" cy="833.6" r="1.45"/><circle cx="91.45" cy="839.1" r="1.45"/><circle cx="88.55" cy="823" r="1.45"/><circle cx="90.55" cy="826.5" r="1.45"/><circle cx="93.85" cy="824" r="1.45"/><circle cx="124.15" cy="808.9" r="1.45"/><circle cx="122.45" cy="814.5" r="1.45"/><circle cx="124.15" cy="814.4" r="1.45"/><circle cx="121.15" cy="817.4" r="1.45"/><circle cx="122.85" cy="817" r="1.45"/><circle cx="122.45" cy="828.9" r="1.45"/><circle cx="124.15" cy="828.9" r="1.45"/><circle cx="122.55" cy="830.4" r="1.45"/><circle cx="123.15" cy="834" r="1.45"/><circle cx="123.75" cy="841" r="1.45"/><circle cx="125.05" cy="840.5" r="1.45"/><circle cx="113.48" cy="823.73" r="1.45"/><circle cx="114.45" cy="822.96" r="1.45"/><circle cx="115.61" cy="824.92" r="1.45"/><circle cx="116.8" cy="824.61" r="1.45"/><circle cx="117.38" cy="821.65" r="1.45"/><circle cx="118.6" cy="824.93" r="1.45"/><circle cx="118.87" cy="821.06" r="1.45"/><circle cx="119.77" cy="822.52" r="1.45"/><circle cx="120.72" cy="821.56" r="1.45"/><circle cx="122.34" cy="823.61" r="1.45"/><circle cx="122.7" cy="824.71" r="1.45"/><circle cx="124.13" cy="823.84" r="1.45"/><circle cx="125.29" cy="821.09" r="1.45"/><circle cx="125.61" cy="825.04" r="1.45"/><circle cx="126.73" cy="824.97" r="1.45"/><circle cx="128.24" cy="822.74" r="1.45"/><circle cx="128.4" cy="824.4" r="1.45"/><circle cx="129.69" cy="822.47" r="1.45"/><circle cx="130.34" cy="822.03" r="1.45"/><circle cx="131.79" cy="821.93" r="1.45"/><circle cx="119.55" cy="820.02" r="1.45"/><circle cx="122.26" cy="821.55" r="1.45"/><circle cx="122.67" cy="822.33" r="1.45"/><circle cx="121.95" cy="823.62" r="1.45"/><circle cx="122.5" cy="824.99" r="1.45"/><circle cx="123.31" cy="825.79" r="1.45"/><circle cx="154.55" cy="760.1" r="1.45"/><circle cx="154.15" cy="787.6" r="1.45"/><circle cx="155.85" cy="792.7" r="1.45"/><circle cx="152.85" cy="795.3" r="1.45"/><circle cx="154.95" cy="796.6" r="1.45"/><circle cx="150.75" cy="798.7" r="1.45"/><circle cx="153.65" cy="799.6" r="1.45"/><circle cx="157.55" cy="797.9" r="1.45"/><circle cx="155.85" cy="801.3" r="1.45"/><circle cx="144.18" cy="808.7" r="1.45"/><circle cx="145" cy="816.25" r="1.45"/><circle cx="145.76" cy="806.7" r="1.45"/><circle cx="146.7" cy="818.2" r="1.45"/><circle cx="146.92" cy="808.6" r="1.45"/><circle cx="147.86" cy="818.31" r="1.45"/><circle cx="148.21" cy="815.1" r="1.45"/><circle cx="149.28" cy="805.65" r="1.45"/><circle cx="149.53" cy="811.05" r="1.45"/><circle cx="150.57" cy="818.59" r="1.45"/><circle cx="150.87" cy="816.58" r="1.45"/><circle cx="151.53" cy="817.39" r="1.45"/><circle cx="152.45" cy="817.48" r="1.45"/><circle cx="153.19" cy="809.79" r="1.45"/><circle cx="153.66" cy="818.42" r="1.45"/><circle cx="154.5" cy="806.7" r="1.45"/><circle cx="154.89" cy="808.31" r="1.45"/><circle cx="155.52" cy="807.17" r="1.45"/><circle cx="156.36" cy="807.77" r="1.45"/><circle cx="157.32" cy="809.28" r="1.45"/><circle cx="157.82" cy="809.06" r="1.45"/><circle cx="158.38" cy="807.42" r="1.45"/><circle cx="158.98" cy="805.07" r="1.45"/><circle cx="159.97" cy="805.03" r="1.45"/><circle cx="160.28" cy="812.9" r="1.45"/><circle cx="161.44" cy="811.78" r="1.45"/><circle cx="162.03" cy="806.36" r="1.45"/><circle cx="162.48" cy="811.15" r="1.45"/><circle cx="163.08" cy="817.07" r="1.45"/><circle cx="163.94" cy="812.25" r="1.45"/><circle cx="153.92" cy="805.74" r="1.45"/><circle cx="156.28" cy="806.01" r="1.45"/><circle cx="150.41" cy="806.98" r="1.45"/><circle cx="153.62" cy="807.55" r="1.45"/><circle cx="154.9" cy="808.1" r="1.45"/><circle cx="154.03" cy="808.8" r="1.45"/><circle cx="152.04" cy="809.62" r="1.45"/><circle cx="157.17" cy="810.31" r="1.45"/><circle cx="149.48" cy="811.5" r="1.45"/><circle cx="154.26" cy="811.96" r="1.45"/><circle cx="156.44" cy="812.84" r="1.45"/><circle cx="152.12" cy="813.37" r="1.45"/><circle cx="154.87" cy="814.72" r="1.45"/><circle cx="152.18" cy="815.48" r="1.45"/><circle cx="153.55" cy="816.22" r="1.45"/><circle cx="154.07" cy="816.48" r="1.45"/><circle cx="154.25" cy="817.29" r="1.45"/><circle cx="152.31" cy="818.11" r="1.45"/><circle cx="154.12" cy="818.88" r="1.45"/><circle cx="154.04" cy="819.25" r="1.45"/><circle cx="151.95" cy="827" r="1.45"/><circle cx="154.55" cy="827" r="1.45"/><circle cx="157.15" cy="827.4" r="1.45"/><circle cx="154.95" cy="830.4" r="1.45"/><circle cx="154.55" cy="832.5" r="1.45"/><circle cx="154.15" cy="833" r="1.45"/><circle cx="216.55" cy="762.8" r="1.45"/><circle cx="217.25" cy="777.2" r="1.45"/><circle cx="217.25" cy="787.7" r="1.45"/><circle cx="217.25" cy="792.7" r="1.45"/><circle cx="217.25" cy="798.8" r="1.45"/><circle cx="218.85" cy="799.9" r="1.45"/><circle cx="217.25" cy="801.6" r="1.45"/><circle cx="218.85" cy="803.8" r="1.45"/><circle cx="217.25" cy="804.4" r="1.45"/><circle cx="217.25" cy="811" r="1.45"/><circle cx="217.25" cy="816.6" r="1.45"/><circle cx="217.25" cy="822.1" r="1.45"/><circle cx="217.25" cy="826.3" r="1.45"/><circle cx="218.85" cy="825.8" r="1.45"/><circle cx="217.25" cy="835.8" r="1.45"/><circle cx="217.25" cy="844.3" r="1.45"/><circle cx="219.45" cy="844.8" r="1.45"/><circle cx="217.25" cy="850.4" r="1.45"/><circle cx="217.25" cy="858.2" r="1.45"/><circle cx="218.85" cy="858.2" r="1.45"/><circle cx="248.25" cy="744.7" r="1.45"/><circle cx="248.25" cy="753.7" r="1.45"/><circle cx="248.25" cy="772.4" r="1.45"/><circle cx="248.25" cy="788" r="1.45"/><circle cx="248.25" cy="808" r="1.45"/><circle cx="247.15" cy="809.4" r="1.45"/><circle cx="249.95" cy="809.4" r="1.45"/><circle cx="248.25" cy="810.5" r="1.45"/><circle cx="248.25" cy="812.7" r="1.45"/><circle cx="248.25" cy="818.8" r="1.45"/><circle cx="249.95" cy="821.6" r="1.45"/><circle cx="247.15" cy="822.7" r="1.45"/><circle cx="248.85" cy="823.8" r="1.45"/><circle cx="251.55" cy="823.2" r="1.45"/><circle cx="248.25" cy="826" r="1.45"/><circle cx="244.95" cy="830.4" r="1.45"/><circle cx="247.15" cy="829.9" r="1.45"/><circle cx="249.95" cy="830.4" r="1.45"/><circle cx="251.55" cy="830.4" r="1.45"/><circle cx="248.25" cy="832.1" r="1.45"/><circle cx="248.25" cy="834.9" r="1.45"/><circle cx="249.35" cy="839.3" r="1.45"/><circle cx="248.25" cy="841" r="1.45"/><circle cx="248.25" cy="843.7" r="1.45"/><circle cx="248.25" cy="850.4" r="1.45"/><circle cx="248.25" cy="859.3" r="1.45"/><circle cx="280.15" cy="745.3" r="1.45"/><circle cx="280.15" cy="759.7" r="1.45"/><circle cx="280.15" cy="778.8" r="1.45"/><circle cx="280.15" cy="785.2" r="1.45"/><circle cx="280.45" cy="790.9" r="1.45"/><circle cx="281.65" cy="792.2" r="1.45"/><circle cx="282.95" cy="793.4" r="1.45"/><circle cx="279.15" cy="794.7" r="1.45"/><circle cx="284.85" cy="795.3" r="1.45"/><circle cx="277.85" cy="796" r="1.45"/><circle cx="281.05" cy="796.6" r="1.45"/><circle cx="282.95" cy="797.9" r="1.45"/><circle cx="279.15" cy="798.5" r="1.45"/><circle cx="276.55" cy="799.2" r="1.45"/><circle cx="277.85" cy="801.1" r="1.45"/><circle cx="281.65" cy="801.1" r="1.45"/><circle cx="279.75" cy="803" r="1.45"/><circle cx="283.55" cy="803.6" r="1.45"/><circle cx="276.55" cy="804.9" r="1.45"/><circle cx="281.65" cy="805.5" r="1.45"/><circle cx="284.85" cy="805.5" r="1.45"/><circle cx="279.15" cy="807.4" r="1.45"/><circle cx="282.95" cy="807.4" r="1.45"/><circle cx="274.05" cy="811.9" r="1.45"/><circle cx="276.55" cy="811.2" r="1.45"/><circle cx="279.15" cy="810.6" r="1.45"/><circle cx="281.65" cy="811.2" r="1.45"/><circle cx="284.85" cy="811.2" r="1.45"/><circle cx="288.05" cy="811.9" r="1.45"/><circle cx="277.85" cy="813.2" r="1.45"/><circle cx="281.05" cy="813.8" r="1.45"/><circle cx="283.55" cy="813.2" r="1.45"/><circle cx="279.15" cy="815" r="1.45"/><circle cx="282.35" cy="815.7" r="1.45"/><circle cx="277.85" cy="818.9" r="1.45"/><circle cx="280.45" cy="819.5" r="1.45"/><circle cx="282.95" cy="819.5" r="1.45"/><circle cx="279.15" cy="821.4" r="1.45"/><circle cx="281.05" cy="822.7" r="1.45"/><circle cx="279.75" cy="824" r="1.45"/><circle cx="278.55" cy="827.8" r="1.45"/><circle cx="281.65" cy="829.1" r="1.45"/><circle cx="277.25" cy="831.6" r="1.45"/><circle cx="280.45" cy="832.2" r="1.45"/><circle cx="282.95" cy="831.6" r="1.45"/><circle cx="280.15" cy="844.3" r="1.45"/><circle cx="280.15" cy="848.8" r="1.45"/><circle cx="280.15" cy="855.8" r="1.45"/><circle cx="280.15" cy="857.7" r="1.45"/><circle cx="280.15" cy="860.2" r="1.45"/><circle cx="280.15" cy="862.8" r="1.45"/><circle cx="342.55" cy="780.9" r="1.45"/><circle cx="343.55" cy="786.3" r="1.45"/><circle cx="342.85" cy="787.7" r="1.45"/><circle cx="343.55" cy="806.8" r="1.45"/><circle cx="344.25" cy="806.2" r="1.45"/><circle cx="343.55" cy="811.5" r="1.45"/><circle cx="342.85" cy="814.3" r="1.45"/><circle cx="344.25" cy="816.3" r="1.45"/><circle cx="342.85" cy="818.4" r="1.45"/><circle cx="343.55" cy="819.7" r="1.45"/><circle cx="342.85" cy="830" r="1.45"/><circle cx="344.25" cy="831.3" r="1.45"/><circle cx="342.25" cy="833.3" r="1.45"/><circle cx="341.55" cy="835.4" r="1.45"/><circle cx="343.55" cy="836.8" r="1.45"/><circle cx="342.85" cy="838.1" r="1.45"/><circle cx="342.85" cy="840.8" r="1.45"/><circle cx="342.85" cy="845" r="1.45"/><circle cx="342.85" cy="852" r="1.45"/><circle cx="342.55" cy="860.2" r="1.45"/><circle cx="342.85" cy="884.2" r="1.45"/><circle cx="374.25" cy="762.9" r="1.45"/><circle cx="374.15" cy="798.3" r="1.45"/><circle cx="374.25" cy="806.8" r="1.45"/><circle cx="374.25" cy="812.9" r="1.45"/><circle cx="373.55" cy="817.7" r="1.45"/><circle cx="374.95" cy="818.4" r="1.45"/><circle cx="374.25" cy="820.4" r="1.45"/><circle cx="374.55" cy="823.8" r="1.45"/><circle cx="373.55" cy="828.6" r="1.45"/><circle cx="374.95" cy="830.6" r="1.45"/><circle cx="374.25" cy="832.7" r="1.45"/><circle cx="374.95" cy="834.7" r="1.45"/><circle cx="374.95" cy="840.1" r="1.45"/><circle cx="374.25" cy="842.9" r="1.45"/><circle cx="374.25" cy="844.9" r="1.45"/><circle cx="374.25" cy="866.7" r="1.45"/><circle cx="405.95" cy="747.9" r="1.45"/><circle cx="405.45" cy="782.4" r="1.45"/><circle cx="407.15" cy="782.4" r="1.45"/><circle cx="405.65" cy="796.3" r="1.45"/><circle cx="403.05" cy="797.5" r="1.45"/><circle cx="405.45" cy="796.9" r="1.45"/><circle cx="408.35" cy="797.5" r="1.45"/><circle cx="404.25" cy="799.2" r="1.45"/><circle cx="406.55" cy="799.8" r="1.45"/><circle cx="405.95" cy="801.6" r="1.45"/><circle cx="407.15" cy="803.3" r="1.45"/><circle cx="395.68" cy="813.89" r="1.45"/><circle cx="396.65" cy="806.92" r="1.45"/><circle cx="397.64" cy="810.81" r="1.45"/><circle cx="398.54" cy="816.29" r="1.45"/><circle cx="399.28" cy="818.66" r="1.45"/><circle cx="399.8" cy="822.76" r="1.45"/><circle cx="401.02" cy="812.53" r="1.45"/><circle cx="401.59" cy="809.27" r="1.45"/><circle cx="401.84" cy="818.4" r="1.45"/><circle cx="403.26" cy="821.95" r="1.45"/><circle cx="403.91" cy="818.11" r="1.45"/><circle cx="404.22" cy="821.53" r="1.45"/><circle cx="405.27" cy="816.19" r="1.45"/><circle cx="406.27" cy="821.95" r="1.45"/><circle cx="406.87" cy="821.79" r="1.45"/><circle cx="407.71" cy="823.02" r="1.45"/><circle cx="408.13" cy="819.33" r="1.45"/><circle cx="408.83" cy="807.08" r="1.45"/><circle cx="409.58" cy="813.17" r="1.45"/><circle cx="410.7" cy="821.96" r="1.45"/><circle cx="411.52" cy="818.11" r="1.45"/><circle cx="412.18" cy="819.09" r="1.45"/><circle cx="413.19" cy="806.56" r="1.45"/><circle cx="413.73" cy="820.34" r="1.45"/><circle cx="414.62" cy="816.4" r="1.45"/><circle cx="415.45" cy="807.72" r="1.45"/><circle cx="406.84" cy="806.28" r="1.45"/><circle cx="405.22" cy="807.19" r="1.45"/><circle cx="410.07" cy="808.45" r="1.45"/><circle cx="408.82" cy="810.16" r="1.45"/><circle cx="405.16" cy="810.87" r="1.45"/><circle cx="403.75" cy="812.09" r="1.45"/><circle cx="401.36" cy="813.35" r="1.45"/><circle cx="407.02" cy="814.49" r="1.45"/><circle cx="406.38" cy="815.17" r="1.45"/><circle cx="404.46" cy="816.83" r="1.45"/><circle cx="409.01" cy="817.12" r="1.45"/><circle cx="405.17" cy="818.29" r="1.45"/><circle cx="409.73" cy="820.1" r="1.45"/><circle cx="404.81" cy="821.2" r="1.45"/><circle cx="408.86" cy="822.07" r="1.45"/><circle cx="409.93" cy="823.18" r="1.45"/><circle cx="409.6" cy="824" r="1.45"/><circle cx="406.13" cy="825.98" r="1.45"/><circle cx="404.85" cy="828.3" r="1.45"/><circle cx="407.15" cy="829.4" r="1.45"/><circle cx="404.25" cy="831.8" r="1.45"/><circle cx="408.95" cy="832.9" r="1.45"/><circle cx="405.95" cy="834.1" r="1.45"/><circle cx="404.25" cy="835.2" r="1.45"/><circle cx="407.75" cy="836.4" r="1.45"/><circle cx="405.95" cy="841" r="1.45"/><circle cx="405.95" cy="846.3" r="1.45"/><circle cx="405.65" cy="848.2" r="1.45"/><circle cx="468.55" cy="800.9" r="1.45"/><circle cx="468.45" cy="807.6" r="1.45"/><circle cx="468.45" cy="813.4" r="1.45"/><circle cx="469.55" cy="816.1" r="1.45"/><circle cx="468.45" cy="818.7" r="1.45"/><circle cx="470.05" cy="820.8" r="1.45"/><circle cx="468.45" cy="822.4" r="1.45"/><circle cx="469.55" cy="824.6" r="1.45"/><circle cx="466.85" cy="827.7" r="1.45"/><circle cx="469.55" cy="827.7" r="1.45"/><circle cx="472.15" cy="827.7" r="1.45"/><circle cx="468.45" cy="829.9" r="1.45"/><circle cx="467.35" cy="833.6" r="1.45"/><circle cx="470.05" cy="832.5" r="1.45"/><circle cx="468.45" cy="835.1" r="1.45"/><circle cx="469.55" cy="837.3" r="1.45"/><circle cx="466.85" cy="838.9" r="1.45"/><circle cx="468.55" cy="839.7" r="1.45"/><circle cx="468.95" cy="867.2" r="1.45"/><circle cx="470.55" cy="866.9" r="1.45"/><circle cx="500.25" cy="777.4" r="1.45"/><circle cx="500.05" cy="805.2" r="1.45"/><circle cx="500.25" cy="810.3" r="1.45"/><circle cx="499.25" cy="812.4" r="1.45"/><circle cx="501.85" cy="812.9" r="1.45"/><circle cx="500.25" cy="814" r="1.45"/><circle cx="498.15" cy="817.7" r="1.45"/><circle cx="501.35" cy="817.1" r="1.45"/><circle cx="500.25" cy="829.3" r="1.45"/><circle cx="500.25" cy="832.5" r="1.45"/><circle cx="500.05" cy="835.9" r="1.45"/><circle cx="500.25" cy="842.9" r="1.45"/><circle cx="500.25" cy="847.9" r="1.45"/><circle cx="491.97" cy="823.62" r="1.45"/><circle cx="492.68" cy="825.86" r="1.45"/><circle cx="493.54" cy="822.78" r="1.45"/><circle cx="494.66" cy="825.76" r="1.45"/><circle cx="495.71" cy="824.16" r="1.45"/><circle cx="497.75" cy="823.91" r="1.45"/><circle cx="498.72" cy="822.18" r="1.45"/><circle cx="499.92" cy="823.84" r="1.45"/><circle cx="500.31" cy="824.69" r="1.45"/><circle cx="501.72" cy="825.55" r="1.45"/><circle cx="502.3" cy="821.71" r="1.45"/><circle cx="503.93" cy="823.76" r="1.45"/><circle cx="504.71" cy="822.93" r="1.45"/><circle cx="506.03" cy="823.11" r="1.45"/><circle cx="506.8" cy="825.3" r="1.45"/><circle cx="508.87" cy="824.9" r="1.45"/><circle cx="499.93" cy="821.14" r="1.45"/><circle cx="499.23" cy="823.31" r="1.45"/><circle cx="497.05" cy="823.75" r="1.45"/><circle cx="497.05" cy="825.05" r="1.45"/><circle cx="503.05" cy="826.51" r="1.45"/><circle cx="531.75" cy="777.6" r="1.45"/><circle cx="531.55" cy="800.3" r="1.45"/><circle cx="524.95" cy="800.9" r="1.45"/><circle cx="528.65" cy="800.6" r="1.45"/><circle cx="533.25" cy="800.3" r="1.45"/><circle cx="536.25" cy="801.8" r="1.45"/><circle cx="527.15" cy="803.3" r="1.45"/><circle cx="531.75" cy="803.3" r="1.45"/><circle cx="535.45" cy="803.3" r="1.45"/><circle cx="529.45" cy="804.8" r="1.45"/><circle cx="533.25" cy="805.2" r="1.45"/><circle cx="527.95" cy="807.1" r="1.45"/><circle cx="531.75" cy="807.8" r="1.45"/><circle cx="528.65" cy="809.3" r="1.45"/><circle cx="530.95" cy="810.1" r="1.45"/><circle cx="533.95" cy="809.3" r="1.45"/><circle cx="536.25" cy="810.1" r="1.45"/><circle cx="527.55" cy="811.2" r="1.45"/><circle cx="529.85" cy="812" r="1.45"/><circle cx="532.45" cy="812.4" r="1.45"/><circle cx="534.75" cy="813.1" r="1.45"/><circle cx="526.45" cy="817.7" r="1.45"/><circle cx="528.65" cy="818.4" r="1.45"/><circle cx="531.75" cy="818" r="1.45"/><circle cx="533.95" cy="817.7" r="1.45"/><circle cx="536.25" cy="818.4" r="1.45"/><circle cx="529.85" cy="819.5" r="1.45"/><circle cx="532.45" cy="820" r="1.45"/><circle cx="534.75" cy="820" r="1.45"/><circle cx="521.85" cy="821.8" r="1.45"/><circle cx="524.95" cy="822.2" r="1.45"/><circle cx="527.95" cy="822.6" r="1.45"/><circle cx="530.95" cy="822.2" r="1.45"/><circle cx="533.95" cy="822.2" r="1.45"/><circle cx="536.95" cy="821.8" r="1.45"/><circle cx="540.05" cy="822.2" r="1.45"/><circle cx="542.25" cy="821.8" r="1.45"/><circle cx="531.75" cy="824.5" r="1.45"/><circle cx="533.25" cy="826" r="1.45"/><circle cx="531.75" cy="827.9" r="1.45"/><circle cx="531.75" cy="829.8" r="1.45"/><circle cx="531.75" cy="832" r="1.45"/><circle cx="531.75" cy="835" r="1.45"/><circle cx="532.45" cy="838.1" r="1.45"/><circle cx="533.25" cy="838.5" r="1.45"/><circle cx="531.55" cy="838.8" r="1.45"/><circle cx="593.6" cy="649.6" r="1.45"/><circle cx="593.6" cy="679.8" r="1.45"/><circle cx="593.6" cy="711.8" r="1.45"/><circle cx="596.1" cy="711.8" r="1.45"/><circle cx="593.6" cy="717.4" r="1.45"/><circle cx="593.6" cy="729.3" r="1.45"/><circle cx="593.6" cy="735.3" r="1.45"/><circle cx="596.1" cy="735.3" r="1.45"/><circle cx="593.6" cy="753.7" r="1.45"/><circle cx="593.6" cy="757.7" r="1.45"/><circle cx="593.6" cy="764.3" r="1.45"/><circle cx="593.6" cy="783.9" r="1.45"/><circle cx="593.6" cy="792.7" r="1.45"/><circle cx="595.9" cy="792.7" r="1.45"/><circle cx="593.6" cy="796.1" r="1.45"/><circle cx="593.6" cy="807" r="1.45"/><circle cx="593.6" cy="821.2" r="1.45"/><circle cx="594.9" cy="826" r="1.45"/><circle cx="593.6" cy="828.6" r="1.45"/><circle cx="593.6" cy="846.4" r="1.45"/><circle cx="593.6" cy="869.6" r="1.45"/><circle cx="625.4" cy="657.7" r="1.45"/><circle cx="626.8" cy="657.7" r="1.45"/><circle cx="625.4" cy="678.4" r="1.45"/><circle cx="625.4" cy="686.3" r="1.45"/><circle cx="625.4" cy="703.8" r="1.45"/><circle cx="625.4" cy="709.9" r="1.45"/><circle cx="625.4" cy="712.5" r="1.45"/><circle cx="626.8" cy="711.8" r="1.45"/><circle cx="625.4" cy="717" r="1.45"/><circle cx="625.4" cy="724.7" r="1.45"/><circle cx="625.4" cy="739.6" r="1.45"/><circle cx="625.4" cy="762.2" r="1.45"/><circle cx="627.5" cy="761" r="1.45"/><circle cx="625.4" cy="772" r="1.45"/><circle cx="625.4" cy="775.9" r="1.45"/><circle cx="625.4" cy="797.1" r="1.45"/><circle cx="622.7" cy="804.4" r="1.45"/><circle cx="624.9" cy="804.4" r="1.45"/><circle cx="626.4" cy="803" r="1.45"/><circle cx="627.1" cy="814" r="1.45"/><circle cx="625.4" cy="846.9" r="1.45"/><circle cx="625.4" cy="868.8" r="1.45"/><circle cx="625.4" cy="873.2" r="1.45"/><circle cx="625.4" cy="897.4" r="1.45"/><circle cx="625.4" cy="914.2" r="1.45"/><circle cx="656.7" cy="640" r="1.45"/><circle cx="656.7" cy="663" r="1.45"/><circle cx="656.7" cy="672.9" r="1.45"/><circle cx="656.7" cy="675.7" r="1.45"/><circle cx="656.7" cy="689" r="1.45"/><circle cx="656.7" cy="695" r="1.45"/><circle cx="656.7" cy="711" r="1.45"/><circle cx="656.7" cy="716.6" r="1.45"/><circle cx="656.7" cy="718.6" r="1.45"/><circle cx="654.6" cy="729.4" r="1.45"/><circle cx="658.8" cy="729.4" r="1.45"/><circle cx="656.7" cy="735" r="1.45"/><circle cx="656.7" cy="744.9" r="1.45"/><circle cx="658.1" cy="747.8" r="1.45"/><circle cx="656.7" cy="750.8" r="1.45"/><circle cx="656.7" cy="755.3" r="1.45"/><circle cx="656.7" cy="766.1" r="1.45"/><circle cx="655.5" cy="779.4" r="1.45"/><circle cx="657.7" cy="780.2" r="1.45"/><circle cx="656.7" cy="781.7" r="1.45"/><circle cx="655.5" cy="796" r="1.45"/><circle cx="657.7" cy="795.3" r="1.45"/><circle cx="659.2" cy="798.3" r="1.45"/><circle cx="656.7" cy="800.6" r="1.45"/><circle cx="658.5" cy="801.4" r="1.45"/><circle cx="656.7" cy="805.9" r="1.45"/><circle cx="656.7" cy="815.8" r="1.45"/><circle cx="657.7" cy="818.8" r="1.45"/><circle cx="655.5" cy="821" r="1.45"/><circle cx="657" cy="823.3" r="1.45"/><circle cx="657" cy="827.1" r="1.45"/><circle cx="655.5" cy="830.1" r="1.45"/><circle cx="657.7" cy="831.7" r="1.45"/><circle cx="656.7" cy="834.7" r="1.45"/><circle cx="654.7" cy="837" r="1.45"/><circle cx="658.5" cy="837.7" r="1.45"/><circle cx="656.7" cy="845.3" r="1.45"/><circle cx="656.7" cy="861.2" r="1.45"/><circle cx="656.7" cy="874.4" r="1.45"/><circle cx="656.7" cy="908.2" r="1.45"/></g></svg>
</body></html>
